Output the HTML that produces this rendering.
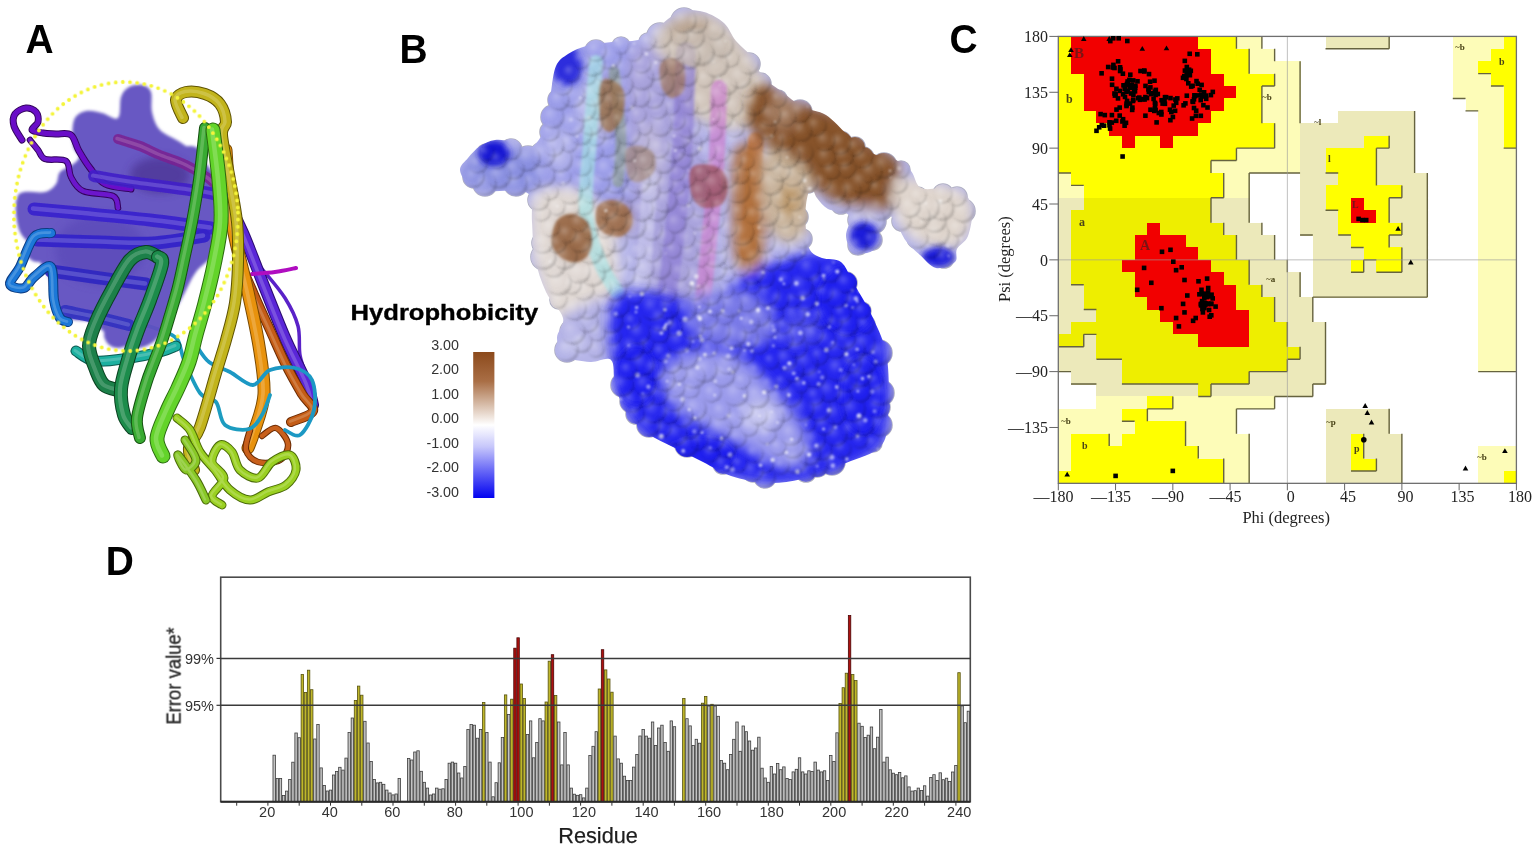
<!DOCTYPE html>
<html><head><meta charset="utf-8"><title>Figure</title>
<style>html,body{margin:0;padding:0;background:#fff;}body{width:1535px;height:852px;overflow:hidden;}svg{display:block;}</style>
</head><body>
<svg width="1535" height="852" viewBox="0 0 1535 852">
<rect width="1535" height="852" fill="#fff"/>
<defs>
<filter id="blA2" x="-20%" y="-20%" width="140%" height="140%"><feGaussianBlur stdDeviation="1.6"/></filter>
<filter id="blA4" x="-20%" y="-20%" width="140%" height="140%"><feGaussianBlur stdDeviation="4"/></filter>
<filter id="blA05" x="-20%" y="-20%" width="140%" height="140%"><feGaussianBlur stdDeviation="0.6"/></filter>
</defs>
<g id="pA">
<g filter="url(#blA05)">
<path d="M222.0,200.0C226.0,208.3 239.2,238.3 246.0,250.0C252.8,261.7 256.5,262.0 263.0,270.0C269.5,278.0 279.2,288.7 285.0,298.0C290.8,307.3 295.5,316.5 298.0,326.0C300.5,335.5 298.5,346.5 300.0,355.0C301.5,363.5 305.0,371.2 307.0,377.0C309.0,382.8 311.2,387.8 312.0,390.0" fill="none" stroke="#5a20c8" stroke-width="3.5" stroke-linecap="round" stroke-linejoin="round" opacity="1.0"/>
<path d="M222.0,190.0C225.5,197.2 236.0,217.0 243.0,233.0C250.0,249.0 256.8,268.2 264.0,286.0C271.2,303.8 278.8,323.7 286.0,340.0C293.2,356.3 302.5,373.2 307.0,384.0C311.5,394.8 312.0,401.5 313.0,405.0" fill="none" stroke="#2a0a70" stroke-width="12" stroke-linecap="round" stroke-linejoin="round" opacity="1.0"/><path d="M222.0,190.0C225.5,197.2 236.0,217.0 243.0,233.0C250.0,249.0 256.8,268.2 264.0,286.0C271.2,303.8 278.8,323.7 286.0,340.0C293.2,356.3 302.5,373.2 307.0,384.0C311.5,394.8 312.0,401.5 313.0,405.0" fill="none" stroke="#5a28d8" stroke-width="10" stroke-linecap="round" stroke-linejoin="round" opacity="1.0"/><path d="M222.0,190.0C225.5,197.2 236.0,217.0 243.0,233.0C250.0,249.0 256.8,268.2 264.0,286.0C271.2,303.8 278.8,323.7 286.0,340.0C293.2,356.3 302.5,373.2 307.0,384.0C311.5,394.8 312.0,401.5 313.0,405.0" fill="none" stroke="#9373e5" stroke-width="3.5" stroke-linecap="round" stroke-linejoin="round" opacity="0.55" transform="translate(-1,-0.5)"/>
<path d="M252.0,274.0C255.8,273.7 267.7,273.0 275.0,272.0C282.3,271.0 292.5,268.7 296.0,268.0" fill="none" stroke="#b010c0" stroke-width="4" stroke-linecap="round" stroke-linejoin="round" opacity="1.0"/>
<path d="M228.0,170.0C229.5,183.2 233.0,229.0 237.0,249.0C241.0,269.0 246.5,276.5 252.0,290.0C257.5,303.5 264.3,317.5 270.0,330.0C275.7,342.5 280.7,354.3 286.0,365.0C291.3,375.7 297.5,386.3 302.0,394.0C306.5,401.7 314.8,406.3 313.0,411.0C311.2,415.7 294.7,420.2 291.0,422.0" fill="none" stroke="#6a2a04" stroke-width="10" stroke-linecap="round" stroke-linejoin="round" opacity="1.0"/><path d="M228.0,170.0C229.5,183.2 233.0,229.0 237.0,249.0C241.0,269.0 246.5,276.5 252.0,290.0C257.5,303.5 264.3,317.5 270.0,330.0C275.7,342.5 280.7,354.3 286.0,365.0C291.3,375.7 297.5,386.3 302.0,394.0C306.5,401.7 314.8,406.3 313.0,411.0C311.2,415.7 294.7,420.2 291.0,422.0" fill="none" stroke="#c45c14" stroke-width="8" stroke-linecap="round" stroke-linejoin="round" opacity="1.0"/><path d="M228.0,170.0C229.5,183.2 233.0,229.0 237.0,249.0C241.0,269.0 246.5,276.5 252.0,290.0C257.5,303.5 264.3,317.5 270.0,330.0C275.7,342.5 280.7,354.3 286.0,365.0C291.3,375.7 297.5,386.3 302.0,394.0C306.5,401.7 314.8,406.3 313.0,411.0C311.2,415.7 294.7,420.2 291.0,422.0" fill="none" stroke="#d89566" stroke-width="2.8" stroke-linecap="round" stroke-linejoin="round" opacity="0.55" transform="translate(-1,-0.5)"/>
<path d="M226.0,150.0C227.0,162.0 228.3,198.3 232.0,222.0C235.7,245.7 243.5,271.3 248.0,292.0C252.5,312.7 256.3,329.0 259.0,346.0C261.7,363.0 264.8,379.7 264.0,394.0C263.2,408.3 256.7,423.0 254.0,432.0C251.3,441.0 249.0,445.3 248.0,448.0" fill="none" stroke="#7a4a04" stroke-width="13" stroke-linecap="round" stroke-linejoin="round" opacity="1.0"/><path d="M226.0,150.0C227.0,162.0 228.3,198.3 232.0,222.0C235.7,245.7 243.5,271.3 248.0,292.0C252.5,312.7 256.3,329.0 259.0,346.0C261.7,363.0 264.8,379.7 264.0,394.0C263.2,408.3 256.7,423.0 254.0,432.0C251.3,441.0 249.0,445.3 248.0,448.0" fill="none" stroke="#e8920c" stroke-width="11" stroke-linecap="round" stroke-linejoin="round" opacity="1.0"/><path d="M226.0,150.0C227.0,162.0 228.3,198.3 232.0,222.0C235.7,245.7 243.5,271.3 248.0,292.0C252.5,312.7 256.3,329.0 259.0,346.0C261.7,363.0 264.8,379.7 264.0,394.0C263.2,408.3 256.7,423.0 254.0,432.0C251.3,441.0 249.0,445.3 248.0,448.0" fill="none" stroke="#f0b861" stroke-width="3.8" stroke-linecap="round" stroke-linejoin="round" opacity="0.55" transform="translate(-1,-0.5)"/>
<path d="M250.0,430.0C249.3,433.3 244.7,444.7 246.0,450.0C247.3,455.3 252.3,460.3 258.0,462.0C263.7,463.7 275.0,463.0 280.0,460.0C285.0,457.0 288.7,449.3 288.0,444.0C287.3,438.7 280.3,429.3 276.0,428.0C271.7,426.7 264.3,434.7 262.0,436.0" fill="none" stroke="#6a2a04" stroke-width="6.5" stroke-linecap="round" stroke-linejoin="round" opacity="1.0"/><path d="M250.0,430.0C249.3,433.3 244.7,444.7 246.0,450.0C247.3,455.3 252.3,460.3 258.0,462.0C263.7,463.7 275.0,463.0 280.0,460.0C285.0,457.0 288.7,449.3 288.0,444.0C287.3,438.7 280.3,429.3 276.0,428.0C271.7,426.7 264.3,434.7 262.0,436.0" fill="none" stroke="#c8601a" stroke-width="4.5" stroke-linecap="round" stroke-linejoin="round" opacity="1.0"/>
<path d="M139.0,323.0C142.5,324.2 153.7,327.3 160.0,330.0C166.3,332.7 173.0,334.0 177.0,339.0C181.0,344.0 180.2,351.0 184.0,360.0C187.8,369.0 194.7,386.0 200.0,393.0C205.3,400.0 211.8,396.7 216.0,402.0C220.2,407.3 219.5,420.5 225.0,425.0C230.5,429.5 242.8,430.7 249.0,429.0C255.2,427.3 258.5,420.7 262.0,415.0C265.5,409.3 268.7,398.3 270.0,395.0" fill="none" stroke="#1e9cc0" stroke-width="3.8" stroke-linecap="round" stroke-linejoin="round" opacity="1.0"/>
<path d="M196.0,345.0C198.2,347.8 203.3,357.5 209.0,362.0C214.7,366.5 222.7,368.2 230.0,372.0C237.3,375.8 246.3,385.3 253.0,385.0C259.7,384.7 263.0,372.8 270.0,370.0C277.0,367.2 288.0,366.3 295.0,368.0C302.0,369.7 308.8,373.0 312.0,380.0C315.2,387.0 316.0,400.8 314.0,410.0C312.0,419.2 304.8,431.7 300.0,435.0C295.2,438.3 287.5,430.8 285.0,430.0" fill="none" stroke="#1a98c4" stroke-width="3.8" stroke-linecap="round" stroke-linejoin="round" opacity="1.0"/>
<path d="M183.0,118.0C181.8,115.0 175.5,104.3 176.0,100.0C176.5,95.7 181.2,93.0 186.0,92.0C190.8,91.0 199.3,92.0 205.0,94.0C210.7,96.0 216.5,99.3 220.0,104.0C223.5,108.7 225.7,116.8 226.0,122.0C226.3,127.2 221.3,125.3 222.0,135.0C222.7,144.7 227.5,165.5 230.0,180.0C232.5,194.5 235.7,208.3 237.0,222.0C238.3,235.7 238.3,248.5 238.0,262.0C237.7,275.5 237.0,290.0 235.0,303.0C233.0,316.0 229.2,328.3 226.0,340.0C222.8,351.7 220.3,358.5 216.0,373.0C211.7,387.5 204.5,414.5 200.0,427.0C195.5,439.5 190.0,440.8 189.0,448.0C188.0,455.2 193.2,466.3 194.0,470.0" fill="none" stroke="#5e5204" stroke-width="12" stroke-linecap="round" stroke-linejoin="round" opacity="1.0"/><path d="M183.0,118.0C181.8,115.0 175.5,104.3 176.0,100.0C176.5,95.7 181.2,93.0 186.0,92.0C190.8,91.0 199.3,92.0 205.0,94.0C210.7,96.0 216.5,99.3 220.0,104.0C223.5,108.7 225.7,116.8 226.0,122.0C226.3,127.2 221.3,125.3 222.0,135.0C222.7,144.7 227.5,165.5 230.0,180.0C232.5,194.5 235.7,208.3 237.0,222.0C238.3,235.7 238.3,248.5 238.0,262.0C237.7,275.5 237.0,290.0 235.0,303.0C233.0,316.0 229.2,328.3 226.0,340.0C222.8,351.7 220.3,358.5 216.0,373.0C211.7,387.5 204.5,414.5 200.0,427.0C195.5,439.5 190.0,440.8 189.0,448.0C188.0,455.2 193.2,466.3 194.0,470.0" fill="none" stroke="#c2b41a" stroke-width="10" stroke-linecap="round" stroke-linejoin="round" opacity="1.0"/><path d="M183.0,118.0C181.8,115.0 175.5,104.3 176.0,100.0C176.5,95.7 181.2,93.0 186.0,92.0C190.8,91.0 199.3,92.0 205.0,94.0C210.7,96.0 216.5,99.3 220.0,104.0C223.5,108.7 225.7,116.8 226.0,122.0C226.3,127.2 221.3,125.3 222.0,135.0C222.7,144.7 227.5,165.5 230.0,180.0C232.5,194.5 235.7,208.3 237.0,222.0C238.3,235.7 238.3,248.5 238.0,262.0C237.7,275.5 237.0,290.0 235.0,303.0C233.0,316.0 229.2,328.3 226.0,340.0C222.8,351.7 220.3,358.5 216.0,373.0C211.7,387.5 204.5,414.5 200.0,427.0C195.5,439.5 190.0,440.8 189.0,448.0C188.0,455.2 193.2,466.3 194.0,470.0" fill="none" stroke="#d7ce6a" stroke-width="3.5" stroke-linecap="round" stroke-linejoin="round" opacity="0.55" transform="translate(-1,-0.5)"/>
</g>
<g filter="url(#blA2)">
<g opacity="0.95" fill="#5f51c0">
<path d="M129.0,87.0C132.5,85.0 138.3,84.2 142.0,85.0C145.7,85.8 149.3,87.5 151.0,92.0C152.7,96.5 150.5,105.7 152.0,112.0C153.5,118.3 155.3,125.0 160.0,130.0C164.7,135.0 173.3,137.5 180.0,142.0C186.7,146.5 194.3,151.5 200.0,157.0C205.7,162.5 209.8,168.2 214.0,175.0C218.2,181.8 223.2,189.5 225.0,198.0C226.8,206.5 226.7,216.8 225.0,226.0C223.3,235.2 219.8,245.3 215.0,253.0C210.2,260.7 201.5,264.5 196.0,272.0C190.5,279.5 186.7,289.7 182.0,298.0C177.3,306.3 173.0,314.5 168.0,322.0C163.0,329.5 158.3,338.7 152.0,343.0C145.7,347.3 137.0,349.2 130.0,348.0C123.0,346.8 116.7,340.3 110.0,336.0C103.3,331.7 97.0,325.0 90.0,322.0C83.0,319.0 73.7,321.7 68.0,318.0C62.3,314.3 59.0,306.3 56.0,300.0C53.0,293.7 52.7,286.3 50.0,280.0C47.3,273.7 43.3,267.8 40.0,262.0C36.7,256.2 33.3,250.0 30.0,245.0C26.7,240.0 22.3,237.2 20.0,232.0C17.7,226.8 16.5,219.7 16.0,214.0C15.5,208.3 15.7,201.7 17.0,198.0C18.3,194.3 19.3,193.0 24.0,192.0C28.7,191.0 39.7,193.3 45.0,192.0C50.3,190.7 53.5,187.3 56.0,184.0C58.5,180.7 57.3,175.2 60.0,172.0C62.7,168.8 68.8,167.5 72.0,165.0C75.2,162.5 78.8,160.3 79.0,157.0C79.2,153.7 73.8,151.2 73.0,145.0C72.2,138.8 71.8,125.7 74.0,120.0C76.2,114.3 81.3,112.2 86.0,111.0C90.7,109.8 96.7,111.8 102.0,113.0C107.3,114.2 114.8,120.7 118.0,118.0C121.2,115.3 119.2,102.2 121.0,97.0C122.8,91.8 125.5,89.0 129.0,87.0Z"/>
<circle cx="136" cy="101" r="14"/>
<circle cx="28" cy="206" r="12"/>
<circle cx="38" cy="250" r="12"/>
<circle cx="68" cy="300" r="14"/>
<circle cx="118" cy="334" r="14"/>
<circle cx="160" cy="318" r="12"/>
<circle cx="90" cy="127" r="14"/>
<circle cx="205" cy="240" r="14"/>
<circle cx="190" cy="160" r="14"/>
</g>
</g>
<g filter="url(#blA4)" opacity="0.7">
<ellipse cx="160" cy="175" rx="30" ry="18" fill="#4a3090"/>
<ellipse cx="100" cy="250" rx="45" ry="35" fill="#5a48b8"/>
</g>
<g filter="url(#blA05)">
<path d="M22.0,140.0C20.7,137.7 15.2,130.3 14.0,126.0C12.8,121.7 13.0,117.0 15.0,114.0C17.0,111.0 22.5,108.3 26.0,108.0C29.5,107.7 34.0,109.7 36.0,112.0C38.0,114.3 38.7,119.0 38.0,122.0C37.3,125.0 31.2,128.2 32.0,130.0C32.8,131.8 39.0,132.3 43.0,133.0C47.0,133.7 51.3,133.7 56.0,134.0C60.7,134.3 67.2,132.2 71.0,135.0C74.8,137.8 75.8,145.5 79.0,151.0C82.2,156.5 85.7,162.5 90.0,168.0C94.3,173.5 98.2,180.5 105.0,184.0C111.8,187.5 126.7,188.2 131.0,189.0" fill="none" stroke="#34065e" stroke-width="7" stroke-linecap="round" stroke-linejoin="round" opacity="1.0"/><path d="M22.0,140.0C20.7,137.7 15.2,130.3 14.0,126.0C12.8,121.7 13.0,117.0 15.0,114.0C17.0,111.0 22.5,108.3 26.0,108.0C29.5,107.7 34.0,109.7 36.0,112.0C38.0,114.3 38.7,119.0 38.0,122.0C37.3,125.0 31.2,128.2 32.0,130.0C32.8,131.8 39.0,132.3 43.0,133.0C47.0,133.7 51.3,133.7 56.0,134.0C60.7,134.3 67.2,132.2 71.0,135.0C74.8,137.8 75.8,145.5 79.0,151.0C82.2,156.5 85.7,162.5 90.0,168.0C94.3,173.5 98.2,180.5 105.0,184.0C111.8,187.5 126.7,188.2 131.0,189.0" fill="none" stroke="#6a10c8" stroke-width="5" stroke-linecap="round" stroke-linejoin="round" opacity="1.0"/>
<path d="M30.0,140.0C31.3,141.7 35.5,146.8 38.0,150.0C40.5,153.2 40.3,157.2 45.0,159.0C49.7,160.8 61.7,158.0 66.0,161.0C70.3,164.0 68.2,172.0 71.0,177.0C73.8,182.0 76.0,187.8 83.0,191.0C90.0,194.2 107.2,193.2 113.0,196.0C118.8,198.8 117.2,206.0 118.0,208.0" fill="none" stroke="#34065e" stroke-width="6.5" stroke-linecap="round" stroke-linejoin="round" opacity="1.0"/><path d="M30.0,140.0C31.3,141.7 35.5,146.8 38.0,150.0C40.5,153.2 40.3,157.2 45.0,159.0C49.7,160.8 61.7,158.0 66.0,161.0C70.3,164.0 68.2,172.0 71.0,177.0C73.8,182.0 76.0,187.8 83.0,191.0C90.0,194.2 107.2,193.2 113.0,196.0C118.8,198.8 117.2,206.0 118.0,208.0" fill="none" stroke="#6c14cc" stroke-width="4.5" stroke-linecap="round" stroke-linejoin="round" opacity="1.0"/>
<path d="M118.0,139.0C121.7,140.2 133.0,143.3 140.0,146.0C147.0,148.7 152.3,151.8 160.0,155.0C167.7,158.2 178.0,161.2 186.0,165.0C194.0,168.8 202.2,173.8 208.0,178.0C213.8,182.2 218.8,188.0 221.0,190.0" fill="none" stroke="#7a2090" stroke-width="10" stroke-linecap="round" stroke-linejoin="round" opacity="0.85"/><path d="M118.0,139.0C121.7,140.2 133.0,143.3 140.0,146.0C147.0,148.7 152.3,151.8 160.0,155.0C167.7,158.2 178.0,161.2 186.0,165.0C194.0,168.8 202.2,173.8 208.0,178.0C213.8,182.2 218.8,188.0 221.0,190.0" fill="none" stroke="#a86eb6" stroke-width="3.5" stroke-linecap="round" stroke-linejoin="round" opacity="0.47" transform="translate(-1,-0.5)"/>
<path d="M94.0,176.0C100.0,177.0 119.0,180.3 130.0,182.0C141.0,183.7 147.7,184.3 160.0,186.0C172.3,187.7 193.7,190.3 204.0,192.0C214.3,193.7 219.0,195.3 222.0,196.0" fill="none" stroke="#4020c8" stroke-width="12" stroke-linecap="round" stroke-linejoin="round" opacity="0.9"/><path d="M94.0,176.0C100.0,177.0 119.0,180.3 130.0,182.0C141.0,183.7 147.7,184.3 160.0,186.0C172.3,187.7 193.7,190.3 204.0,192.0C214.3,193.7 219.0,195.3 222.0,196.0" fill="none" stroke="#826edb" stroke-width="4.2" stroke-linecap="round" stroke-linejoin="round" opacity="0.50" transform="translate(-1,-0.5)"/>
<path d="M34.0,209.0C43.3,209.8 70.7,212.2 90.0,214.0C109.3,215.8 129.8,217.7 150.0,220.0C170.2,222.3 200.8,226.7 211.0,228.0" fill="none" stroke="#3a22cc" stroke-width="13" stroke-linecap="round" stroke-linejoin="round" opacity="0.95"/><path d="M34.0,209.0C43.3,209.8 70.7,212.2 90.0,214.0C109.3,215.8 129.8,217.7 150.0,220.0C170.2,222.3 200.8,226.7 211.0,228.0" fill="none" stroke="#7e6fdd" stroke-width="4.5" stroke-linecap="round" stroke-linejoin="round" opacity="0.52" transform="translate(-1,-0.5)"/>
<path d="M37.0,240.0C47.5,240.3 80.7,241.5 100.0,242.0C119.3,242.5 135.7,244.0 153.0,243.0C170.3,242.0 195.5,237.2 204.0,236.0" fill="none" stroke="#3424c8" stroke-width="13" stroke-linecap="round" stroke-linejoin="round" opacity="0.95"/><path d="M37.0,240.0C47.5,240.3 80.7,241.5 100.0,242.0C119.3,242.5 135.7,244.0 153.0,243.0C170.3,242.0 195.5,237.2 204.0,236.0" fill="none" stroke="#7b70db" stroke-width="4.5" stroke-linecap="round" stroke-linejoin="round" opacity="0.52" transform="translate(-1,-0.5)"/>
<path d="M51.0,271.0C59.2,272.2 84.2,275.8 100.0,278.0C115.8,280.2 138.3,283.0 146.0,284.0" fill="none" stroke="#3028c0" stroke-width="13" stroke-linecap="round" stroke-linejoin="round" opacity="0.95"/><path d="M51.0,271.0C59.2,272.2 84.2,275.8 100.0,278.0C115.8,280.2 138.3,283.0 146.0,284.0" fill="none" stroke="#7873d6" stroke-width="4.5" stroke-linecap="round" stroke-linejoin="round" opacity="0.52" transform="translate(-1,-0.5)"/>
<path d="M65.0,311.0C70.8,312.2 89.3,315.7 100.0,318.0C110.7,320.3 124.2,323.8 129.0,325.0" fill="none" stroke="#3030c0" stroke-width="12" stroke-linecap="round" stroke-linejoin="round" opacity="0.9"/><path d="M65.0,311.0C70.8,312.2 89.3,315.7 100.0,318.0C110.7,320.3 124.2,323.8 129.0,325.0" fill="none" stroke="#7878d6" stroke-width="4.2" stroke-linecap="round" stroke-linejoin="round" opacity="0.50" transform="translate(-1,-0.5)"/>
<path d="M51.0,233.0C48.2,233.7 39.2,231.3 34.0,237.0C28.8,242.7 24.0,259.2 20.0,267.0C16.0,274.8 9.3,280.5 10.0,284.0C10.7,287.5 20.0,289.2 24.0,288.0C28.0,286.8 29.5,280.5 34.0,277.0C38.5,273.5 47.7,263.2 51.0,267.0C54.3,270.8 52.5,291.5 54.0,300.0C55.5,308.5 57.7,314.3 60.0,318.0C62.3,321.7 66.7,321.3 68.0,322.0" fill="none" stroke="#0a3a80" stroke-width="10" stroke-linecap="round" stroke-linejoin="round" opacity="1.0"/><path d="M51.0,233.0C48.2,233.7 39.2,231.3 34.0,237.0C28.8,242.7 24.0,259.2 20.0,267.0C16.0,274.8 9.3,280.5 10.0,284.0C10.7,287.5 20.0,289.2 24.0,288.0C28.0,286.8 29.5,280.5 34.0,277.0C38.5,273.5 47.7,263.2 51.0,267.0C54.3,270.8 52.5,291.5 54.0,300.0C55.5,308.5 57.7,314.3 60.0,318.0C62.3,321.7 66.7,321.3 68.0,322.0" fill="none" stroke="#1a78d8" stroke-width="8" stroke-linecap="round" stroke-linejoin="round" opacity="1.0"/><path d="M51.0,233.0C48.2,233.7 39.2,231.3 34.0,237.0C28.8,242.7 24.0,259.2 20.0,267.0C16.0,274.8 9.3,280.5 10.0,284.0C10.7,287.5 20.0,289.2 24.0,288.0C28.0,286.8 29.5,280.5 34.0,277.0C38.5,273.5 47.7,263.2 51.0,267.0C54.3,270.8 52.5,291.5 54.0,300.0C55.5,308.5 57.7,314.3 60.0,318.0C62.3,321.7 66.7,321.3 68.0,322.0" fill="none" stroke="#6aa7e5" stroke-width="2.8" stroke-linecap="round" stroke-linejoin="round" opacity="0.55" transform="translate(-1,-0.5)"/>
<path d="M76.0,351.0C79.2,352.7 86.0,359.8 95.0,361.0C104.0,362.2 119.2,359.5 130.0,358.0C140.8,356.5 152.3,354.0 160.0,352.0C167.7,350.0 173.3,347.0 176.0,346.0" fill="none" stroke="#0a5a50" stroke-width="11" stroke-linecap="round" stroke-linejoin="round" opacity="1.0"/><path d="M76.0,351.0C79.2,352.7 86.0,359.8 95.0,361.0C104.0,362.2 119.2,359.5 130.0,358.0C140.8,356.5 152.3,354.0 160.0,352.0C167.7,350.0 173.3,347.0 176.0,346.0" fill="none" stroke="#1eb0a0" stroke-width="9" stroke-linecap="round" stroke-linejoin="round" opacity="1.0"/><path d="M76.0,351.0C79.2,352.7 86.0,359.8 95.0,361.0C104.0,362.2 119.2,359.5 130.0,358.0C140.8,356.5 152.3,354.0 160.0,352.0C167.7,350.0 173.3,347.0 176.0,346.0" fill="none" stroke="#6ccbc1" stroke-width="3.1" stroke-linecap="round" stroke-linejoin="round" opacity="0.55" transform="translate(-1,-0.5)"/>
<path d="M158.0,257.0C156.0,256.2 150.7,251.5 146.0,252.0C141.3,252.5 135.7,253.7 130.0,260.0C124.3,266.3 117.7,279.7 112.0,290.0C106.3,300.3 99.8,312.7 96.0,322.0C92.2,331.3 89.0,338.0 89.0,346.0C89.0,354.0 93.5,363.5 96.0,370.0C98.5,376.5 100.3,381.7 104.0,385.0C107.7,388.3 115.7,389.2 118.0,390.0" fill="none" stroke="#0a4020" stroke-width="14" stroke-linecap="round" stroke-linejoin="round" opacity="1.0"/><path d="M158.0,257.0C156.0,256.2 150.7,251.5 146.0,252.0C141.3,252.5 135.7,253.7 130.0,260.0C124.3,266.3 117.7,279.7 112.0,290.0C106.3,300.3 99.8,312.7 96.0,322.0C92.2,331.3 89.0,338.0 89.0,346.0C89.0,354.0 93.5,363.5 96.0,370.0C98.5,376.5 100.3,381.7 104.0,385.0C107.7,388.3 115.7,389.2 118.0,390.0" fill="none" stroke="#1a8048" stroke-width="12" stroke-linecap="round" stroke-linejoin="round" opacity="1.0"/><path d="M158.0,257.0C156.0,256.2 150.7,251.5 146.0,252.0C141.3,252.5 135.7,253.7 130.0,260.0C124.3,266.3 117.7,279.7 112.0,290.0C106.3,300.3 99.8,312.7 96.0,322.0C92.2,331.3 89.0,338.0 89.0,346.0C89.0,354.0 93.5,363.5 96.0,370.0C98.5,376.5 100.3,381.7 104.0,385.0C107.7,388.3 115.7,389.2 118.0,390.0" fill="none" stroke="#6aac88" stroke-width="4.2" stroke-linecap="round" stroke-linejoin="round" opacity="0.55" transform="translate(-1,-0.5)"/>
<path d="M158.0,257.0C158.7,258.2 163.3,256.8 162.0,264.0C160.7,271.2 154.0,289.0 150.0,300.0C146.0,311.0 141.7,320.0 138.0,330.0C134.3,340.0 130.8,350.2 128.0,360.0C125.2,369.8 121.7,379.8 121.0,389.0C120.3,398.2 122.2,408.5 124.0,415.0C125.8,421.5 130.7,425.8 132.0,428.0" fill="none" stroke="#0a4020" stroke-width="14" stroke-linecap="round" stroke-linejoin="round" opacity="1.0"/><path d="M158.0,257.0C158.7,258.2 163.3,256.8 162.0,264.0C160.7,271.2 154.0,289.0 150.0,300.0C146.0,311.0 141.7,320.0 138.0,330.0C134.3,340.0 130.8,350.2 128.0,360.0C125.2,369.8 121.7,379.8 121.0,389.0C120.3,398.2 122.2,408.5 124.0,415.0C125.8,421.5 130.7,425.8 132.0,428.0" fill="none" stroke="#1e8c4c" stroke-width="12" stroke-linecap="round" stroke-linejoin="round" opacity="1.0"/><path d="M158.0,257.0C158.7,258.2 163.3,256.8 162.0,264.0C160.7,271.2 154.0,289.0 150.0,300.0C146.0,311.0 141.7,320.0 138.0,330.0C134.3,340.0 130.8,350.2 128.0,360.0C125.2,369.8 121.7,379.8 121.0,389.0C120.3,398.2 122.2,408.5 124.0,415.0C125.8,421.5 130.7,425.8 132.0,428.0" fill="none" stroke="#6cb48a" stroke-width="4.2" stroke-linecap="round" stroke-linejoin="round" opacity="0.55" transform="translate(-1,-0.5)"/>
<path d="M205.0,128.0C204.0,136.7 201.2,164.3 199.0,180.0C196.8,195.7 194.5,208.7 192.0,222.0C189.5,235.3 186.3,249.2 184.0,260.0C181.7,270.8 180.3,277.8 178.0,287.0C175.7,296.2 172.7,306.0 170.0,315.0C167.3,324.0 164.7,333.2 162.0,341.0C159.3,348.8 156.7,354.8 154.0,362.0C151.3,369.2 148.8,374.7 146.0,384.0C143.2,393.3 138.0,409.0 137.0,418.0C136.0,427.0 139.5,434.7 140.0,438.0" fill="none" stroke="#145010" stroke-width="12" stroke-linecap="round" stroke-linejoin="round" opacity="1.0"/><path d="M205.0,128.0C204.0,136.7 201.2,164.3 199.0,180.0C196.8,195.7 194.5,208.7 192.0,222.0C189.5,235.3 186.3,249.2 184.0,260.0C181.7,270.8 180.3,277.8 178.0,287.0C175.7,296.2 172.7,306.0 170.0,315.0C167.3,324.0 164.7,333.2 162.0,341.0C159.3,348.8 156.7,354.8 154.0,362.0C151.3,369.2 148.8,374.7 146.0,384.0C143.2,393.3 138.0,409.0 137.0,418.0C136.0,427.0 139.5,434.7 140.0,438.0" fill="none" stroke="#38aa30" stroke-width="10" stroke-linecap="round" stroke-linejoin="round" opacity="1.0"/><path d="M205.0,128.0C204.0,136.7 201.2,164.3 199.0,180.0C196.8,195.7 194.5,208.7 192.0,222.0C189.5,235.3 186.3,249.2 184.0,260.0C181.7,270.8 180.3,277.8 178.0,287.0C175.7,296.2 172.7,306.0 170.0,315.0C167.3,324.0 164.7,333.2 162.0,341.0C159.3,348.8 156.7,354.8 154.0,362.0C151.3,369.2 148.8,374.7 146.0,384.0C143.2,393.3 138.0,409.0 137.0,418.0C136.0,427.0 139.5,434.7 140.0,438.0" fill="none" stroke="#7dc778" stroke-width="3.5" stroke-linecap="round" stroke-linejoin="round" opacity="0.55" transform="translate(-1,-0.5)"/>
<path d="M213.0,130.0C214.0,138.3 217.7,164.7 219.0,180.0C220.3,195.3 221.8,207.8 221.0,222.0C220.2,236.2 216.7,251.5 214.0,265.0C211.3,278.5 208.0,291.3 205.0,303.0C202.0,314.7 198.7,325.2 196.0,335.0C193.3,344.8 192.0,353.2 189.0,362.0C186.0,370.8 181.7,379.8 178.0,388.0C174.3,396.2 170.5,402.7 167.0,411.0C163.5,419.3 157.7,430.5 157.0,438.0C156.3,445.5 162.0,453.0 163.0,456.0" fill="none" stroke="#2a6a10" stroke-width="15" stroke-linecap="round" stroke-linejoin="round" opacity="1.0"/><path d="M213.0,130.0C214.0,138.3 217.7,164.7 219.0,180.0C220.3,195.3 221.8,207.8 221.0,222.0C220.2,236.2 216.7,251.5 214.0,265.0C211.3,278.5 208.0,291.3 205.0,303.0C202.0,314.7 198.7,325.2 196.0,335.0C193.3,344.8 192.0,353.2 189.0,362.0C186.0,370.8 181.7,379.8 178.0,388.0C174.3,396.2 170.5,402.7 167.0,411.0C163.5,419.3 157.7,430.5 157.0,438.0C156.3,445.5 162.0,453.0 163.0,456.0" fill="none" stroke="#64d42c" stroke-width="13" stroke-linecap="round" stroke-linejoin="round" opacity="1.0"/><path d="M213.0,130.0C214.0,138.3 217.7,164.7 219.0,180.0C220.3,195.3 221.8,207.8 221.0,222.0C220.2,236.2 216.7,251.5 214.0,265.0C211.3,278.5 208.0,291.3 205.0,303.0C202.0,314.7 198.7,325.2 196.0,335.0C193.3,344.8 192.0,353.2 189.0,362.0C186.0,370.8 181.7,379.8 178.0,388.0C174.3,396.2 170.5,402.7 167.0,411.0C163.5,419.3 157.7,430.5 157.0,438.0C156.3,445.5 162.0,453.0 163.0,456.0" fill="none" stroke="#9ae375" stroke-width="4.5" stroke-linecap="round" stroke-linejoin="round" opacity="0.55" transform="translate(-1,-0.5)"/>
<path d="M177.0,418.0C179.2,420.0 186.2,424.3 190.0,430.0C193.8,435.7 195.8,445.3 200.0,452.0C204.2,458.7 210.0,463.7 215.0,470.0C220.0,476.3 224.2,485.0 230.0,490.0C235.8,495.0 243.7,499.7 250.0,500.0C256.3,500.3 262.0,494.5 268.0,492.0C274.0,489.5 281.3,488.7 286.0,485.0C290.7,481.3 295.3,475.0 296.0,470.0C296.7,465.0 294.0,456.3 290.0,455.0C286.0,453.7 277.3,458.2 272.0,462.0C266.7,465.8 263.3,476.7 258.0,478.0C252.7,479.3 244.3,474.3 240.0,470.0C235.7,465.7 235.3,456.2 232.0,452.0C228.7,447.8 223.3,443.3 220.0,445.0C216.7,446.7 211.3,456.5 212.0,462.0C212.7,467.5 224.0,472.3 224.0,478.0C224.0,483.7 212.3,491.5 212.0,496.0C211.7,500.5 220.3,503.5 222.0,505.0" fill="none" stroke="#4a6a08" stroke-width="9" stroke-linecap="round" stroke-linejoin="round" opacity="1.0"/><path d="M177.0,418.0C179.2,420.0 186.2,424.3 190.0,430.0C193.8,435.7 195.8,445.3 200.0,452.0C204.2,458.7 210.0,463.7 215.0,470.0C220.0,476.3 224.2,485.0 230.0,490.0C235.8,495.0 243.7,499.7 250.0,500.0C256.3,500.3 262.0,494.5 268.0,492.0C274.0,489.5 281.3,488.7 286.0,485.0C290.7,481.3 295.3,475.0 296.0,470.0C296.7,465.0 294.0,456.3 290.0,455.0C286.0,453.7 277.3,458.2 272.0,462.0C266.7,465.8 263.3,476.7 258.0,478.0C252.7,479.3 244.3,474.3 240.0,470.0C235.7,465.7 235.3,456.2 232.0,452.0C228.7,447.8 223.3,443.3 220.0,445.0C216.7,446.7 211.3,456.5 212.0,462.0C212.7,467.5 224.0,472.3 224.0,478.0C224.0,483.7 212.3,491.5 212.0,496.0C211.7,500.5 220.3,503.5 222.0,505.0" fill="none" stroke="#9ad020" stroke-width="7" stroke-linecap="round" stroke-linejoin="round" opacity="1.0"/><path d="M177.0,418.0C179.2,420.0 186.2,424.3 190.0,430.0C193.8,435.7 195.8,445.3 200.0,452.0C204.2,458.7 210.0,463.7 215.0,470.0C220.0,476.3 224.2,485.0 230.0,490.0C235.8,495.0 243.7,499.7 250.0,500.0C256.3,500.3 262.0,494.5 268.0,492.0C274.0,489.5 281.3,488.7 286.0,485.0C290.7,481.3 295.3,475.0 296.0,470.0C296.7,465.0 294.0,456.3 290.0,455.0C286.0,453.7 277.3,458.2 272.0,462.0C266.7,465.8 263.3,476.7 258.0,478.0C252.7,479.3 244.3,474.3 240.0,470.0C235.7,465.7 235.3,456.2 232.0,452.0C228.7,447.8 223.3,443.3 220.0,445.0C216.7,446.7 211.3,456.5 212.0,462.0C212.7,467.5 224.0,472.3 224.0,478.0C224.0,483.7 212.3,491.5 212.0,496.0C211.7,500.5 220.3,503.5 222.0,505.0" fill="none" stroke="#bde06e" stroke-width="2.4" stroke-linecap="round" stroke-linejoin="round" opacity="0.55" transform="translate(-1,-0.5)"/>
<path d="M185.0,440.0C186.8,443.3 195.8,455.0 196.0,460.0C196.2,465.0 189.0,470.8 186.0,470.0C183.0,469.2 176.3,453.3 178.0,455.0C179.7,456.7 191.3,472.5 196.0,480.0C200.7,487.5 204.3,496.7 206.0,500.0" fill="none" stroke="#4a6a08" stroke-width="9" stroke-linecap="round" stroke-linejoin="round" opacity="1.0"/><path d="M185.0,440.0C186.8,443.3 195.8,455.0 196.0,460.0C196.2,465.0 189.0,470.8 186.0,470.0C183.0,469.2 176.3,453.3 178.0,455.0C179.7,456.7 191.3,472.5 196.0,480.0C200.7,487.5 204.3,496.7 206.0,500.0" fill="none" stroke="#88c828" stroke-width="7" stroke-linecap="round" stroke-linejoin="round" opacity="1.0"/><path d="M185.0,440.0C186.8,443.3 195.8,455.0 196.0,460.0C196.2,465.0 189.0,470.8 186.0,470.0C183.0,469.2 176.3,453.3 178.0,455.0C179.7,456.7 191.3,472.5 196.0,480.0C200.7,487.5 204.3,496.7 206.0,500.0" fill="none" stroke="#b1db73" stroke-width="2.4" stroke-linecap="round" stroke-linejoin="round" opacity="0.55" transform="translate(-1,-0.5)"/>
</g>
<ellipse cx="126" cy="216.5" rx="112" ry="134.5" fill="none" stroke="#f4f43a" stroke-width="3.9" stroke-dasharray="0 7.2" stroke-linecap="round" transform="rotate(-2 126 216.5)"/>
</g>
<defs>
<clipPath id="clipB"><path d="M460.0,170.0C459.7,165.3 464.7,162.0 468.0,158.0C471.3,154.0 475.5,149.0 480.0,146.0C484.5,143.0 489.7,140.7 495.0,140.0C500.3,139.3 506.5,140.5 512.0,142.0C517.5,143.5 523.3,149.7 528.0,149.0C532.7,148.3 536.7,143.2 540.0,138.0C543.3,132.8 546.2,125.7 548.0,118.0C549.8,110.3 549.7,100.7 551.0,92.0C552.3,83.3 553.2,72.3 556.0,66.0C558.8,59.7 563.0,57.3 568.0,54.0C573.0,50.7 578.7,48.0 586.0,46.0C593.3,44.0 603.3,43.0 612.0,42.0C620.7,41.0 630.8,41.8 638.0,40.0C645.2,38.2 650.0,34.5 655.0,31.0C660.0,27.5 663.3,22.3 668.0,19.0C672.7,15.7 677.0,12.2 683.0,11.0C689.0,9.8 697.2,10.0 704.0,12.0C710.8,14.0 718.7,18.2 724.0,23.0C729.3,27.8 731.3,35.3 736.0,41.0C740.7,46.7 747.5,51.0 752.0,57.0C756.5,63.0 758.2,71.3 763.0,77.0C767.8,82.7 774.3,86.0 781.0,91.0C787.7,96.0 795.5,103.0 803.0,107.0C810.5,111.0 818.3,110.2 826.0,115.0C833.7,119.8 841.0,129.5 849.0,136.0C857.0,142.5 866.2,150.0 874.0,154.0C881.8,158.0 889.8,157.2 896.0,160.0C902.2,162.8 906.8,166.3 911.0,171.0C915.2,175.7 915.3,185.2 921.0,188.0C926.7,190.8 938.0,187.5 945.0,188.0C952.0,188.5 958.5,187.3 963.0,191.0C967.5,194.7 971.2,202.5 972.0,210.0C972.8,217.5 970.5,229.5 968.0,236.0C965.5,242.5 959.2,244.7 957.0,249.0C954.8,253.3 958.5,258.8 955.0,262.0C951.5,265.2 941.8,269.2 936.0,268.0C930.2,266.8 925.0,259.5 920.0,255.0C915.0,250.5 910.0,246.3 906.0,241.0C902.0,235.7 899.3,227.7 896.0,223.0C892.7,218.3 888.7,212.5 886.0,213.0C883.3,213.5 881.3,220.7 880.0,226.0C878.7,231.3 880.2,240.5 878.0,245.0C875.8,249.5 871.3,252.2 867.0,253.0C862.7,253.8 855.5,252.8 852.0,250.0C848.5,247.2 846.3,241.2 846.0,236.0C845.7,230.8 850.3,223.0 850.0,219.0C849.7,215.0 847.7,213.7 844.0,212.0C840.3,210.3 832.5,211.3 828.0,209.0C823.5,206.7 819.8,201.7 817.0,198.0C814.2,194.3 812.8,185.8 811.0,187.0C809.2,188.2 806.8,197.8 806.0,205.0C805.2,212.2 805.3,222.5 806.0,230.0C806.7,237.5 807.3,245.3 810.0,250.0C812.7,254.7 816.8,256.0 822.0,258.0C827.2,260.0 835.8,258.0 841.0,262.0C846.2,266.0 847.7,272.7 853.0,282.0C858.3,291.3 867.3,305.3 873.0,318.0C878.7,330.7 884.5,341.3 887.0,358.0C889.5,374.7 889.2,403.2 888.0,418.0C886.8,432.8 887.0,439.5 880.0,447.0C873.0,454.5 859.0,457.7 846.0,463.0C833.0,468.3 815.2,475.7 802.0,479.0C788.8,482.3 778.8,483.5 767.0,483.0C755.2,482.5 741.7,479.5 731.0,476.0C720.3,472.5 712.3,466.7 703.0,462.0C693.7,457.3 684.3,452.8 675.0,448.0C665.7,443.2 655.2,439.0 647.0,433.0C638.8,427.0 631.3,420.2 626.0,412.0C620.7,403.8 617.5,392.7 615.0,384.0C612.5,375.3 615.2,363.7 611.0,360.0C606.8,356.3 597.8,362.7 590.0,362.0C582.2,361.3 569.5,360.0 564.0,356.0C558.5,352.0 557.2,344.3 557.0,338.0C556.8,331.7 564.8,325.7 563.0,318.0C561.2,310.3 550.7,302.0 546.0,292.0C541.3,282.0 537.3,269.7 535.0,258.0C532.7,246.3 532.7,232.0 532.0,222.0C531.3,212.0 533.0,203.2 531.0,198.0C529.0,192.8 526.8,192.2 520.0,191.0C513.2,189.8 498.3,191.8 490.0,191.0C481.7,190.2 475.0,189.5 470.0,186.0C465.0,182.5 460.3,174.7 460.0,170.0Z"/></clipPath>
<filter id="blB6" x="-50%" y="-50%" width="200%" height="200%"><feGaussianBlur stdDeviation="6"/></filter>
<filter id="blB3" x="-50%" y="-50%" width="200%" height="200%"><feGaussianBlur stdDeviation="3"/></filter>
<filter id="blB15" x="-50%" y="-50%" width="200%" height="200%"><feGaussianBlur stdDeviation="1.6"/></filter>
<filter id="blB1" x="-50%" y="-50%" width="200%" height="200%"><feGaussianBlur stdDeviation="1.2"/></filter>
<filter id="bumpB" filterUnits="userSpaceOnUse" x="440" y="0" width="545" height="500" color-interpolation-filters="sRGB"><feTurbulence type="fractalNoise" baseFrequency="0.045" numOctaves="1" seed="5" result="noise"/><feDiffuseLighting in="noise" surfaceScale="2.5" diffuseConstant="1.12" lighting-color="#ffffff" result="diff"><feDistantLight azimuth="225" elevation="60"/></feDiffuseLighting><feSpecularLighting in="noise" surfaceScale="3" specularConstant="0.5" specularExponent="30" lighting-color="#ffffff" result="spec"><feDistantLight azimuth="225" elevation="45"/></feSpecularLighting><feComposite in="SourceGraphic" in2="diff" operator="arithmetic" k1="1" k2="0" k3="0" k4="0" result="shaded"/><feComposite in="spec" in2="SourceGraphic" operator="in" result="specIn"/><feComposite in="shaded" in2="specIn" operator="arithmetic" k1="0" k2="1" k3="0.35" k4="0"/></filter>
<g id="atomsB"><circle cx="581" cy="60" r="10"/><circle cx="663" cy="84" r="12"/><circle cx="735" cy="142" r="12"/><circle cx="619" cy="307" r="11"/><circle cx="835" cy="414" r="12"/><circle cx="770" cy="328" r="10"/><circle cx="719" cy="95" r="12"/><circle cx="702" cy="53" r="13"/><circle cx="720" cy="206" r="10"/><circle cx="767" cy="214" r="13"/><circle cx="543" cy="155" r="13"/><circle cx="604" cy="263" r="10"/><circle cx="701" cy="173" r="9"/><circle cx="671" cy="107" r="9"/><circle cx="784" cy="141" r="11"/><circle cx="642" cy="364" r="13"/><circle cx="624" cy="275" r="12"/><circle cx="852" cy="301" r="9"/><circle cx="582" cy="167" r="10"/><circle cx="551" cy="228" r="10"/><circle cx="778" cy="397" r="10"/><circle cx="610" cy="101" r="9"/><circle cx="687" cy="75" r="12"/><circle cx="861" cy="182" r="12"/><circle cx="609" cy="57" r="13"/><circle cx="963" cy="211" r="12"/><circle cx="856" cy="204" r="9"/><circle cx="584" cy="205" r="11"/><circle cx="584" cy="109" r="13"/><circle cx="865" cy="363" r="12"/><circle cx="632" cy="321" r="9"/><circle cx="795" cy="335" r="11"/><circle cx="785" cy="280" r="9"/><circle cx="842" cy="449" r="10"/><circle cx="875" cy="381" r="9"/><circle cx="804" cy="167" r="9"/><circle cx="701" cy="259" r="9"/><circle cx="764" cy="242" r="12"/><circle cx="531" cy="182" r="10"/><circle cx="738" cy="191" r="13"/><circle cx="863" cy="158" r="11"/><circle cx="580" cy="241" r="12"/><circle cx="682" cy="416" r="12"/><circle cx="676" cy="388" r="10"/><circle cx="737" cy="438" r="10"/><circle cx="709" cy="349" r="9"/><circle cx="806" cy="299" r="12"/><circle cx="699" cy="441" r="10"/><circle cx="755" cy="176" r="9"/><circle cx="627" cy="153" r="10"/><circle cx="754" cy="454" r="10"/><circle cx="806" cy="363" r="13"/><circle cx="668" cy="294" r="9"/><circle cx="619" cy="120" r="9"/><circle cx="665" cy="200" r="13"/><circle cx="554" cy="266" r="12"/><circle cx="769" cy="158" r="13"/><circle cx="809" cy="269" r="12"/><circle cx="728" cy="85" r="10"/><circle cx="622" cy="68" r="11"/><circle cx="819" cy="356" r="10"/><circle cx="795" cy="461" r="13"/><circle cx="747" cy="338" r="12"/><circle cx="831" cy="272" r="11"/><circle cx="660" cy="333" r="11"/><circle cx="579" cy="272" r="12"/><circle cx="654" cy="411" r="13"/><circle cx="791" cy="434" r="12"/><circle cx="780" cy="171" r="11"/><circle cx="770" cy="260" r="12"/><circle cx="715" cy="269" r="12"/><circle cx="766" cy="129" r="11"/><circle cx="860" cy="440" r="9"/><circle cx="705" cy="79" r="9"/><circle cx="843" cy="396" r="10"/><circle cx="613" cy="194" r="12"/><circle cx="613" cy="337" r="9"/><circle cx="864" cy="344" r="12"/><circle cx="684" cy="94" r="9"/><circle cx="591" cy="252" r="13"/><circle cx="716" cy="65" r="13"/><circle cx="634" cy="226" r="13"/><circle cx="478" cy="164" r="10"/><circle cx="771" cy="183" r="13"/><circle cx="802" cy="409" r="13"/><circle cx="740" cy="266" r="11"/><circle cx="572" cy="123" r="13"/><circle cx="754" cy="103" r="13"/><circle cx="646" cy="345" r="9"/><circle cx="715" cy="31" r="10"/><circle cx="617" cy="350" r="10"/><circle cx="652" cy="230" r="11"/><circle cx="674" cy="65" r="11"/><circle cx="918" cy="238" r="11"/><circle cx="767" cy="294" r="13"/><circle cx="554" cy="146" r="11"/><circle cx="683" cy="159" r="10"/><circle cx="739" cy="464" r="9"/><circle cx="824" cy="293" r="10"/><circle cx="703" cy="420" r="9"/><circle cx="567" cy="234" r="10"/><circle cx="607" cy="208" r="12"/><circle cx="626" cy="171" r="11"/><circle cx="602" cy="288" r="10"/><circle cx="739" cy="212" r="9"/><circle cx="616" cy="181" r="13"/><circle cx="735" cy="128" r="10"/><circle cx="707" cy="318" r="12"/><circle cx="739" cy="285" r="10"/><circle cx="832" cy="462" r="13"/><circle cx="616" cy="160" r="9"/><circle cx="745" cy="116" r="11"/><circle cx="661" cy="125" r="12"/><circle cx="686" cy="357" r="13"/><circle cx="639" cy="333" r="12"/><circle cx="711" cy="453" r="10"/><circle cx="661" cy="52" r="10"/><circle cx="658" cy="110" r="10"/><circle cx="838" cy="369" r="13"/><circle cx="778" cy="447" r="9"/><circle cx="606" cy="169" r="12"/><circle cx="642" cy="210" r="12"/><circle cx="840" cy="143" r="12"/><circle cx="596" cy="349" r="9"/><circle cx="749" cy="323" r="11"/><circle cx="638" cy="251" r="9"/><circle cx="847" cy="382" r="11"/><circle cx="802" cy="131" r="11"/><circle cx="778" cy="99" r="9"/><circle cx="878" cy="407" r="12"/><circle cx="754" cy="140" r="10"/><circle cx="787" cy="117" r="10"/><circle cx="639" cy="282" r="12"/><circle cx="901" cy="170" r="9"/><circle cx="824" cy="425" r="11"/><circle cx="898" cy="184" r="10"/><circle cx="749" cy="427" r="10"/><circle cx="660" cy="268" r="12"/><circle cx="793" cy="300" r="9"/><circle cx="543" cy="243" r="11"/><circle cx="872" cy="240" r="10"/><circle cx="593" cy="64" r="13"/><circle cx="718" cy="242" r="12"/><circle cx="550" cy="192" r="9"/><circle cx="781" cy="199" r="10"/><circle cx="803" cy="153" r="11"/><circle cx="713" cy="132" r="10"/><circle cx="651" cy="175" r="11"/><circle cx="853" cy="350" r="13"/><circle cx="935" cy="221" r="12"/><circle cx="645" cy="385" r="12"/><circle cx="723" cy="375" r="13"/><circle cx="880" cy="425" r="12"/><circle cx="836" cy="349" r="11"/><circle cx="591" cy="194" r="10"/><circle cx="679" cy="136" r="13"/><circle cx="689" cy="427" r="13"/><circle cx="639" cy="142" r="11"/><circle cx="784" cy="219" r="10"/><circle cx="725" cy="317" r="9"/><circle cx="814" cy="440" r="12"/><circle cx="847" cy="169" r="10"/><circle cx="638" cy="115" r="9"/><circle cx="676" cy="223" r="11"/><circle cx="794" cy="249" r="13"/><circle cx="761" cy="200" r="11"/><circle cx="664" cy="184" r="10"/><circle cx="543" cy="175" r="13"/><circle cx="699" cy="219" r="12"/><circle cx="669" cy="414" r="11"/><circle cx="685" cy="310" r="12"/><circle cx="721" cy="152" r="10"/><circle cx="788" cy="232" r="10"/><circle cx="765" cy="464" r="10"/><circle cx="801" cy="385" r="9"/><circle cx="821" cy="317" r="12"/><circle cx="673" cy="250" r="9"/><circle cx="744" cy="410" r="10"/><circle cx="571" cy="209" r="9"/><circle cx="649" cy="425" r="12"/><circle cx="747" cy="88" r="10"/><circle cx="595" cy="152" r="9"/><circle cx="782" cy="382" r="9"/><circle cx="559" cy="100" r="11"/><circle cx="712" cy="393" r="10"/><circle cx="785" cy="261" r="11"/><circle cx="730" cy="305" r="13"/><circle cx="826" cy="157" r="11"/><circle cx="567" cy="350" r="12"/><circle cx="581" cy="134" r="12"/><circle cx="661" cy="352" r="10"/><circle cx="560" cy="160" r="13"/><circle cx="842" cy="313" r="10"/><circle cx="767" cy="435" r="10"/><circle cx="865" cy="325" r="10"/><circle cx="770" cy="115" r="12"/><circle cx="645" cy="269" r="10"/><circle cx="499" cy="176" r="13"/><circle cx="771" cy="361" r="9"/><circle cx="696" cy="277" r="13"/><circle cx="573" cy="95" r="13"/><circle cx="756" cy="370" r="9"/><circle cx="542" cy="213" r="9"/><circle cx="847" cy="325" r="12"/><circle cx="863" cy="425" r="12"/><circle cx="731" cy="59" r="9"/><circle cx="836" cy="435" r="12"/><circle cx="718" cy="331" r="13"/><circle cx="822" cy="182" r="10"/><circle cx="678" cy="373" r="10"/><circle cx="706" cy="152" r="11"/><circle cx="747" cy="248" r="13"/><circle cx="816" cy="126" r="11"/><circle cx="950" cy="241" r="9"/><circle cx="693" cy="342" r="10"/><circle cx="714" cy="184" r="12"/><circle cx="721" cy="411" r="10"/><circle cx="640" cy="97" r="11"/><circle cx="732" cy="161" r="11"/><circle cx="559" cy="283" r="13"/><circle cx="705" cy="370" r="13"/><circle cx="604" cy="246" r="12"/><circle cx="715" cy="255" r="13"/><circle cx="648" cy="42" r="9"/><circle cx="611" cy="321" r="13"/><circle cx="757" cy="396" r="13"/><circle cx="918" cy="196" r="9"/><circle cx="853" cy="410" r="13"/><circle cx="628" cy="133" r="13"/><circle cx="748" cy="302" r="11"/><circle cx="593" cy="94" r="13"/><circle cx="700" cy="192" r="11"/><circle cx="740" cy="174" r="11"/><circle cx="736" cy="394" r="13"/><circle cx="642" cy="78" r="13"/><circle cx="880" cy="208" r="13"/><circle cx="858" cy="220" r="10"/><circle cx="563" cy="177" r="9"/><circle cx="653" cy="308" r="13"/><circle cx="511" cy="150" r="11"/><circle cx="902" cy="221" r="10"/><circle cx="808" cy="182" r="11"/><circle cx="769" cy="384" r="9"/><circle cx="584" cy="290" r="11"/><circle cx="722" cy="46" r="12"/><circle cx="691" cy="390" r="9"/><circle cx="784" cy="413" r="9"/><circle cx="635" cy="296" r="9"/><circle cx="794" cy="315" r="12"/><circle cx="690" cy="144" r="13"/><circle cx="720" cy="428" r="13"/><circle cx="746" cy="356" r="9"/><circle cx="632" cy="401" r="12"/><circle cx="575" cy="309" r="12"/><circle cx="573" cy="332" r="13"/><circle cx="918" cy="217" r="13"/><circle cx="664" cy="162" r="12"/><circle cx="625" cy="100" r="12"/><circle cx="634" cy="53" r="9"/><circle cx="831" cy="171" r="10"/><circle cx="742" cy="381" r="9"/><circle cx="712" cy="165" r="9"/><circle cx="817" cy="465" r="12"/><circle cx="680" cy="37" r="9"/><circle cx="569" cy="143" r="10"/><circle cx="764" cy="278" r="11"/><circle cx="608" cy="145" r="13"/><circle cx="800" cy="112" r="12"/><circle cx="829" cy="391" r="12"/><circle cx="786" cy="359" r="12"/><circle cx="775" cy="313" r="10"/><circle cx="622" cy="85" r="12"/><circle cx="794" cy="189" r="12"/><circle cx="588" cy="322" r="11"/><circle cx="616" cy="241" r="12"/><circle cx="943" cy="194" r="10"/><circle cx="605" cy="230" r="9"/><circle cx="486" cy="153" r="9"/><circle cx="694" cy="377" r="12"/><circle cx="656" cy="285" r="10"/><circle cx="709" cy="115" r="12"/><circle cx="697" cy="23" r="11"/><circle cx="688" cy="126" r="13"/><circle cx="728" cy="228" r="10"/><circle cx="837" cy="297" r="12"/><circle cx="819" cy="409" r="13"/><circle cx="834" cy="191" r="13"/><circle cx="764" cy="228" r="11"/><circle cx="674" cy="327" r="10"/><circle cx="623" cy="385" r="12"/><circle cx="553" cy="117" r="12"/><circle cx="860" cy="391" r="12"/><circle cx="514" cy="169" r="11"/><circle cx="692" cy="327" r="13"/><circle cx="616" cy="220" r="12"/><circle cx="710" cy="293" r="13"/><circle cx="688" cy="179" r="9"/><circle cx="686" cy="239" r="10"/><circle cx="826" cy="340" r="11"/><circle cx="581" cy="182" r="10"/><circle cx="704" cy="233" r="11"/><circle cx="588" cy="308" r="12"/><circle cx="665" cy="237" r="10"/><circle cx="645" cy="162" r="9"/><circle cx="807" cy="315" r="13"/><circle cx="684" cy="197" r="10"/><circle cx="726" cy="290" r="9"/><circle cx="638" cy="181" r="13"/><circle cx="694" cy="38" r="11"/><circle cx="660" cy="36" r="13"/><circle cx="676" cy="434" r="12"/><circle cx="689" cy="58" r="12"/><circle cx="746" cy="162" r="9"/><circle cx="571" cy="73" r="10"/><circle cx="871" cy="172" r="12"/><circle cx="944" cy="258" r="10"/><circle cx="659" cy="148" r="11"/><circle cx="825" cy="141" r="11"/><circle cx="742" cy="233" r="13"/><circle cx="618" cy="262" r="10"/><circle cx="699" cy="304" r="11"/><circle cx="690" cy="107" r="9"/><circle cx="957" cy="228" r="9"/><circle cx="733" cy="106" r="11"/><circle cx="632" cy="348" r="13"/><circle cx="602" cy="85" r="11"/><circle cx="636" cy="414" r="10"/><circle cx="606" cy="127" r="13"/><circle cx="759" cy="345" r="10"/><circle cx="652" cy="253" r="10"/><circle cx="679" cy="341" r="13"/><circle cx="765" cy="477" r="11"/><circle cx="702" cy="206" r="12"/><circle cx="758" cy="416" r="10"/><circle cx="664" cy="380" r="12"/><circle cx="654" cy="369" r="12"/><circle cx="649" cy="191" r="12"/><circle cx="656" cy="69" r="12"/><circle cx="815" cy="377" r="12"/><circle cx="755" cy="259" r="13"/><circle cx="910" cy="207" r="11"/><circle cx="597" cy="332" r="10"/><circle cx="728" cy="363" r="12"/><circle cx="565" cy="257" r="13"/><circle cx="931" cy="248" r="11"/><circle cx="781" cy="466" r="9"/><circle cx="550" cy="132" r="10"/><circle cx="675" cy="51" r="10"/><circle cx="663" cy="429" r="9"/><circle cx="783" cy="340" r="11"/><circle cx="582" cy="342" r="11"/><circle cx="808" cy="424" r="9"/><circle cx="753" cy="286" r="9"/><circle cx="615" cy="289" r="13"/><circle cx="942" cy="208" r="13"/><circle cx="795" cy="203" r="9"/><circle cx="695" cy="409" r="12"/><circle cx="884" cy="166" r="13"/><circle cx="485" cy="184" r="12"/><circle cx="850" cy="191" r="12"/><circle cx="630" cy="193" r="10"/><circle cx="644" cy="127" r="9"/><circle cx="702" cy="102" r="13"/><circle cx="680" cy="272" r="10"/><circle cx="631" cy="262" r="9"/><circle cx="723" cy="118" r="11"/><circle cx="815" cy="396" r="10"/><circle cx="657" cy="210" r="12"/><circle cx="797" cy="348" r="11"/><circle cx="690" cy="252" r="9"/><circle cx="822" cy="450" r="11"/><circle cx="579" cy="223" r="10"/><circle cx="572" cy="285" r="10"/><circle cx="528" cy="159" r="13"/><circle cx="671" cy="362" r="12"/><circle cx="801" cy="286" r="13"/><circle cx="877" cy="188" r="9"/><circle cx="749" cy="64" r="11"/><circle cx="798" cy="217" r="10"/><circle cx="740" cy="77" r="12"/><circle cx="791" cy="396" r="12"/><circle cx="879" cy="353" r="13"/><circle cx="628" cy="370" r="10"/><circle cx="596" cy="137" r="10"/><circle cx="772" cy="419" r="13"/><circle cx="771" cy="142" r="13"/><circle cx="687" cy="445" r="12"/><circle cx="588" cy="77" r="9"/><circle cx="591" cy="123" r="13"/><circle cx="716" cy="221" r="9"/><circle cx="605" cy="304" r="9"/><circle cx="599" cy="183" r="12"/><circle cx="682" cy="288" r="10"/><circle cx="498" cy="160" r="10"/><circle cx="557" cy="207" r="9"/><circle cx="727" cy="258" r="12"/><circle cx="684" cy="21" r="13"/><circle cx="593" cy="274" r="13"/><circle cx="544" cy="257" r="13"/><circle cx="788" cy="156" r="13"/><circle cx="730" cy="349" r="12"/><circle cx="793" cy="371" r="12"/><circle cx="760" cy="84" r="11"/><circle cx="695" cy="291" r="10"/><circle cx="699" cy="134" r="11"/><circle cx="723" cy="464" r="10"/><circle cx="813" cy="334" r="11"/><circle cx="622" cy="206" r="11"/><circle cx="674" cy="401" r="11"/><circle cx="581" cy="150" r="9"/><circle cx="677" cy="186" r="9"/><circle cx="727" cy="274" r="9"/><circle cx="858" cy="245" r="10"/><circle cx="596" cy="218" r="13"/><circle cx="621" cy="46" r="9"/><circle cx="850" cy="430" r="10"/><circle cx="474" cy="177" r="11"/><circle cx="726" cy="448" r="11"/><circle cx="760" cy="316" r="11"/><circle cx="704" cy="333" r="9"/><circle cx="855" cy="147" r="10"/><circle cx="590" cy="232" r="9"/><circle cx="661" cy="319" r="13"/><circle cx="571" cy="193" r="12"/><circle cx="846" cy="283" r="11"/><circle cx="516" cy="184" r="12"/><circle cx="676" cy="121" r="10"/><circle cx="646" cy="399" r="9"/><circle cx="892" cy="201" r="9"/><circle cx="734" cy="419" r="10"/><circle cx="714" cy="306" r="11"/><circle cx="881" cy="393" r="13"/><circle cx="658" cy="395" r="11"/><circle cx="793" cy="447" r="12"/><circle cx="802" cy="239" r="10"/><circle cx="841" cy="204" r="10"/><circle cx="809" cy="453" r="13"/><circle cx="727" cy="177" r="12"/><circle cx="873" cy="443" r="9"/><circle cx="753" cy="471" r="11"/><circle cx="754" cy="215" r="10"/><circle cx="957" cy="197" r="10"/><circle cx="927" cy="208" r="13"/><circle cx="677" cy="173" r="9"/><circle cx="851" cy="363" r="11"/><circle cx="937" cy="234" r="13"/><circle cx="873" cy="221" r="13"/><circle cx="563" cy="86" r="10"/><circle cx="559" cy="300" r="9"/><circle cx="779" cy="248" r="11"/><circle cx="793" cy="175" r="12"/><circle cx="668" cy="308" r="12"/><circle cx="642" cy="64" r="10"/><circle cx="845" cy="338" r="12"/><circle cx="862" cy="311" r="9"/><circle cx="539" cy="200" r="11"/><circle cx="834" cy="323" r="9"/><circle cx="806" cy="472" r="10"/><circle cx="734" cy="335" r="13"/><circle cx="752" cy="272" r="13"/><circle cx="599" cy="108" r="13"/><circle cx="817" cy="281" r="9"/><circle cx="596" cy="51" r="11"/><circle cx="713" cy="440" r="12"/><circle cx="557" cy="244" r="10"/><circle cx="607" cy="72" r="12"/><circle cx="654" cy="98" r="11"/><circle cx="686" cy="211" r="9"/><circle cx="844" cy="156" r="11"/><circle cx="703" cy="246" r="10"/><circle cx="673" cy="150" r="13"/><circle cx="779" cy="300" r="11"/><circle cx="860" cy="375" r="13"/><circle cx="784" cy="326" r="9"/></g>
<radialGradient id="shB" cx="0.42" cy="0.4" r="0.6" fx="0.36" fy="0.33"><stop offset="0" stop-color="#fff" stop-opacity="0.22"/><stop offset="0.45" stop-color="#fff" stop-opacity="0.03"/><stop offset="0.75" stop-color="#000" stop-opacity="0"/><stop offset="1" stop-color="#000" stop-opacity="0.2"/></radialGradient>
<mask id="mB" maskUnits="userSpaceOnUse" x="430" y="0" width="560" height="500"><path d="M460.0,170.0C459.7,165.3 464.7,162.0 468.0,158.0C471.3,154.0 475.5,149.0 480.0,146.0C484.5,143.0 489.7,140.7 495.0,140.0C500.3,139.3 506.5,140.5 512.0,142.0C517.5,143.5 523.3,149.7 528.0,149.0C532.7,148.3 536.7,143.2 540.0,138.0C543.3,132.8 546.2,125.7 548.0,118.0C549.8,110.3 549.7,100.7 551.0,92.0C552.3,83.3 553.2,72.3 556.0,66.0C558.8,59.7 563.0,57.3 568.0,54.0C573.0,50.7 578.7,48.0 586.0,46.0C593.3,44.0 603.3,43.0 612.0,42.0C620.7,41.0 630.8,41.8 638.0,40.0C645.2,38.2 650.0,34.5 655.0,31.0C660.0,27.5 663.3,22.3 668.0,19.0C672.7,15.7 677.0,12.2 683.0,11.0C689.0,9.8 697.2,10.0 704.0,12.0C710.8,14.0 718.7,18.2 724.0,23.0C729.3,27.8 731.3,35.3 736.0,41.0C740.7,46.7 747.5,51.0 752.0,57.0C756.5,63.0 758.2,71.3 763.0,77.0C767.8,82.7 774.3,86.0 781.0,91.0C787.7,96.0 795.5,103.0 803.0,107.0C810.5,111.0 818.3,110.2 826.0,115.0C833.7,119.8 841.0,129.5 849.0,136.0C857.0,142.5 866.2,150.0 874.0,154.0C881.8,158.0 889.8,157.2 896.0,160.0C902.2,162.8 906.8,166.3 911.0,171.0C915.2,175.7 915.3,185.2 921.0,188.0C926.7,190.8 938.0,187.5 945.0,188.0C952.0,188.5 958.5,187.3 963.0,191.0C967.5,194.7 971.2,202.5 972.0,210.0C972.8,217.5 970.5,229.5 968.0,236.0C965.5,242.5 959.2,244.7 957.0,249.0C954.8,253.3 958.5,258.8 955.0,262.0C951.5,265.2 941.8,269.2 936.0,268.0C930.2,266.8 925.0,259.5 920.0,255.0C915.0,250.5 910.0,246.3 906.0,241.0C902.0,235.7 899.3,227.7 896.0,223.0C892.7,218.3 888.7,212.5 886.0,213.0C883.3,213.5 881.3,220.7 880.0,226.0C878.7,231.3 880.2,240.5 878.0,245.0C875.8,249.5 871.3,252.2 867.0,253.0C862.7,253.8 855.5,252.8 852.0,250.0C848.5,247.2 846.3,241.2 846.0,236.0C845.7,230.8 850.3,223.0 850.0,219.0C849.7,215.0 847.7,213.7 844.0,212.0C840.3,210.3 832.5,211.3 828.0,209.0C823.5,206.7 819.8,201.7 817.0,198.0C814.2,194.3 812.8,185.8 811.0,187.0C809.2,188.2 806.8,197.8 806.0,205.0C805.2,212.2 805.3,222.5 806.0,230.0C806.7,237.5 807.3,245.3 810.0,250.0C812.7,254.7 816.8,256.0 822.0,258.0C827.2,260.0 835.8,258.0 841.0,262.0C846.2,266.0 847.7,272.7 853.0,282.0C858.3,291.3 867.3,305.3 873.0,318.0C878.7,330.7 884.5,341.3 887.0,358.0C889.5,374.7 889.2,403.2 888.0,418.0C886.8,432.8 887.0,439.5 880.0,447.0C873.0,454.5 859.0,457.7 846.0,463.0C833.0,468.3 815.2,475.7 802.0,479.0C788.8,482.3 778.8,483.5 767.0,483.0C755.2,482.5 741.7,479.5 731.0,476.0C720.3,472.5 712.3,466.7 703.0,462.0C693.7,457.3 684.3,452.8 675.0,448.0C665.7,443.2 655.2,439.0 647.0,433.0C638.8,427.0 631.3,420.2 626.0,412.0C620.7,403.8 617.5,392.7 615.0,384.0C612.5,375.3 615.2,363.7 611.0,360.0C606.8,356.3 597.8,362.7 590.0,362.0C582.2,361.3 569.5,360.0 564.0,356.0C558.5,352.0 557.2,344.3 557.0,338.0C556.8,331.7 564.8,325.7 563.0,318.0C561.2,310.3 550.7,302.0 546.0,292.0C541.3,282.0 537.3,269.7 535.0,258.0C532.7,246.3 532.7,232.0 532.0,222.0C531.3,212.0 533.0,203.2 531.0,198.0C529.0,192.8 526.8,192.2 520.0,191.0C513.2,189.8 498.3,191.8 490.0,191.0C481.7,190.2 475.0,189.5 470.0,186.0C465.0,182.5 460.3,174.7 460.0,170.0Z" fill="#fff"/><use href="#atomsB" fill="#fff"/></mask>
</defs>
<use href="#atomsB" fill="none" stroke="#6c6c90" stroke-width="1.6" opacity="0.55"/>
<g mask="url(#mB)">
<g>
<rect x="440" y="0" width="545" height="500" fill="#b9b9ec"/>
<g>
<g filter="url(#blB6)">
<path d="M545.0,50.0C555.3,35.3 583.3,42.3 600.0,42.0C616.7,41.7 635.8,35.0 645.0,48.0C654.2,61.0 655.0,94.7 655.0,120.0C655.0,145.3 654.2,181.7 645.0,200.0C635.8,218.3 615.8,228.3 600.0,230.0C584.2,231.7 560.3,226.7 550.0,210.0C539.7,193.3 538.8,156.7 538.0,130.0C537.2,103.3 534.7,64.7 545.0,50.0Z" fill="#9c9eea" opacity="1.0"/>
<ellipse cx="595" cy="110" rx="18" ry="30" fill="#c4c4ee" opacity="0.8" transform="rotate(0 595 110)"/>
<ellipse cx="560" cy="150" rx="14" ry="22" fill="#bcbcec" opacity="0.8" transform="rotate(0 560 150)"/>
<path d="M460.0,170.0C462.5,164.2 470.0,153.7 480.0,150.0C490.0,146.3 510.0,146.3 520.0,148.0C530.0,149.7 537.5,153.0 540.0,160.0C542.5,167.0 541.7,184.7 535.0,190.0C528.3,195.3 511.7,192.8 500.0,192.0C488.3,191.2 471.7,188.7 465.0,185.0C458.3,181.3 457.5,175.8 460.0,170.0Z" fill="#8a90e2" opacity="1.0"/>
<path d="M535.0,195.0C543.0,185.0 567.2,185.0 580.0,190.0C592.8,195.0 605.7,206.7 612.0,225.0C618.3,243.3 619.2,278.3 618.0,300.0C616.8,321.7 613.8,345.8 605.0,355.0C596.2,364.2 575.0,364.2 565.0,355.0C555.0,345.8 550.5,317.5 545.0,300.0C539.5,282.5 533.7,267.5 532.0,250.0C530.3,232.5 527.0,205.0 535.0,195.0Z" fill="#e2dad6" opacity="1.0"/>
<path d="M556.0,322.0C561.5,315.7 575.7,307.7 585.0,304.0C594.3,300.3 606.5,293.2 612.0,300.0C617.5,306.8 619.3,334.3 618.0,345.0C616.7,355.7 612.7,361.2 604.0,364.0C595.3,366.8 574.7,365.7 566.0,362.0C557.3,358.3 553.7,348.7 552.0,342.0C550.3,335.3 550.5,328.3 556.0,322.0Z" fill="#b2b2e8" opacity="0.95"/>
<ellipse cx="575" cy="345" rx="10" ry="7" fill="#d6d6f4" opacity="0.7" transform="rotate(0 575 345)"/>
<ellipse cx="574" cy="238" rx="15" ry="20" fill="#9a6a48" opacity="0.95" transform="rotate(0 574 238)"/>
<ellipse cx="618" cy="218" rx="14" ry="16" fill="#a27452" opacity="0.8" transform="rotate(0 618 218)"/>
<ellipse cx="607" cy="105" rx="8" ry="28" fill="#a88a7a" opacity="0.7" transform="rotate(0 607 105)"/>
<path d="M655.0,35.0C659.7,22.0 678.3,14.2 690.0,12.0C701.7,9.8 713.3,12.3 725.0,22.0C736.7,31.7 752.5,55.3 760.0,70.0C767.5,84.7 773.3,100.0 770.0,110.0C766.7,120.0 751.7,128.3 740.0,130.0C728.3,131.7 713.0,126.7 700.0,120.0C687.0,113.3 669.5,104.2 662.0,90.0C654.5,75.8 650.3,48.0 655.0,35.0Z" fill="#d2c6bc" opacity="1.0"/>
<ellipse cx="690" cy="30" rx="20" ry="14" fill="#b49c88" opacity="0.75" transform="rotate(0 690 30)"/>
<ellipse cx="664" cy="95" rx="11" ry="35" fill="#a07a68" opacity="0.65" transform="rotate(0 664 95)"/>
<path d="M628.0,60.0C632.7,35.8 648.0,41.7 660.0,55.0C672.0,68.3 690.7,105.8 700.0,140.0C709.3,174.2 717.3,228.3 716.0,260.0C714.7,291.7 703.0,320.8 692.0,330.0C681.0,339.2 660.0,336.7 650.0,315.0C640.0,293.3 635.7,242.5 632.0,200.0C628.3,157.5 623.3,84.2 628.0,60.0Z" fill="#aaa4de" opacity="1.0"/>
<ellipse cx="650" cy="160" rx="12" ry="36" fill="#ccc4dc" opacity="0.65" transform="rotate(0 650 160)"/>
</g>
<g filter="url(#blB15)">
<path d="M596.0,62.0C595.0,75.0 591.7,115.0 590.0,140.0C588.3,165.0 584.3,191.7 586.0,212.0C587.7,232.3 594.8,248.7 600.0,262.0C605.2,275.3 614.2,287.0 617.0,292.0" fill="none" stroke="#a6e2e6" stroke-width="14" stroke-linecap="round" opacity="0.7"/>
<path d="M614.0,72.0C615.2,83.2 620.3,120.7 621.0,139.0C621.7,157.3 618.5,174.8 618.0,182.0" fill="none" stroke="#8a9c8c" stroke-width="11" stroke-linecap="round" opacity="0.65"/>
<path d="M686.0,52.0C685.3,68.3 683.8,120.3 682.0,150.0C680.2,179.7 677.3,206.7 675.0,230.0C672.7,253.3 669.8,273.3 668.0,290.0C666.2,306.7 664.7,323.3 664.0,330.0" fill="none" stroke="#8f80d6" stroke-width="20" stroke-linecap="round" opacity="0.75"/>
<path d="M650.0,178.0C649.2,190.0 646.8,226.2 645.0,250.0C643.2,273.8 640.0,309.2 639.0,321.0" fill="none" stroke="#d0d0f0" stroke-width="15" stroke-linecap="round" opacity="0.55"/>
<path d="M719.0,88.0C718.5,101.7 717.8,143.0 716.0,170.0C714.2,197.0 710.5,224.7 708.0,250.0C705.5,275.3 702.2,310.0 701.0,322.0" fill="none" stroke="#cc84d0" stroke-width="16" stroke-linecap="round" opacity="0.75"/>
<path d="M756.0,140.0C755.3,150.0 753.3,181.3 752.0,200.0C750.7,218.7 748.7,243.3 748.0,252.0" fill="none" stroke="#c06a30" stroke-width="16" stroke-linecap="round" opacity="0.8"/>
<path d="M556.0,222.0C559.0,217.0 565.0,214.3 570.0,214.0C575.0,213.7 582.3,216.3 586.0,220.0C589.7,223.7 591.3,230.7 592.0,236.0C592.7,241.3 592.3,247.7 590.0,252.0C587.7,256.3 582.7,261.0 578.0,262.0C573.3,263.0 566.3,261.0 562.0,258.0C557.7,255.0 553.0,250.0 552.0,244.0C551.0,238.0 553.0,227.0 556.0,222.0Z" fill="#9a6a48" opacity="0.95"/>
<path d="M598.0,206.0C600.7,202.3 607.0,199.7 612.0,200.0C617.0,200.3 624.7,204.0 628.0,208.0C631.3,212.0 633.0,219.3 632.0,224.0C631.0,228.7 626.3,234.3 622.0,236.0C617.7,237.7 610.3,236.3 606.0,234.0C601.7,231.7 597.3,226.7 596.0,222.0C594.7,217.3 595.3,209.7 598.0,206.0Z" fill="#a07050" opacity="0.9"/>
<path d="M690.0,170.0C692.3,164.7 700.7,164.0 706.0,164.0C711.3,164.0 718.3,166.3 722.0,170.0C725.7,173.7 728.0,180.3 728.0,186.0C728.0,191.7 726.0,200.3 722.0,204.0C718.0,207.7 709.0,209.3 704.0,208.0C699.0,206.7 694.3,202.3 692.0,196.0C689.7,189.7 687.7,175.3 690.0,170.0Z" fill="#a0586a" opacity="0.85"/>
<path d="M626.0,150.0C628.0,145.0 635.3,145.3 640.0,146.0C644.7,146.7 651.7,149.7 654.0,154.0C656.3,158.3 656.3,167.3 654.0,172.0C651.7,176.7 644.3,181.3 640.0,182.0C635.7,182.7 630.3,181.3 628.0,176.0C625.7,170.7 624.0,155.0 626.0,150.0Z" fill="#a08478" opacity="0.7"/>
<path d="M600.0,84.0C602.0,77.3 608.0,78.7 612.0,80.0C616.0,81.3 622.3,85.7 624.0,92.0C625.7,98.3 624.3,111.3 622.0,118.0C619.7,124.7 613.7,131.7 610.0,132.0C606.3,132.3 601.7,128.0 600.0,120.0C598.3,112.0 598.0,90.7 600.0,84.0Z" fill="#98704e" opacity="0.8"/>
<path d="M660.0,65.0C661.7,60.0 668.0,57.8 672.0,58.0C676.0,58.2 682.0,60.7 684.0,66.0C686.0,71.3 686.0,84.7 684.0,90.0C682.0,95.3 675.7,98.3 672.0,98.0C668.3,97.7 664.0,93.5 662.0,88.0C660.0,82.5 658.3,70.0 660.0,65.0Z" fill="#9c7660" opacity="0.75"/>
<ellipse cx="700" cy="48" rx="28" ry="20" fill="#c8bcb2" opacity="0.8" transform="rotate(0 700 48)"/>
</g>
<g filter="url(#blB6)">
<path d="M760.0,85.0C768.7,82.2 786.7,97.8 800.0,103.0C813.3,108.2 828.3,109.3 840.0,116.0C851.7,122.7 860.8,136.0 870.0,143.0C879.2,150.0 889.7,151.8 895.0,158.0C900.3,164.2 902.0,172.2 902.0,180.0C902.0,187.8 899.5,200.0 895.0,205.0C890.5,210.0 882.5,210.0 875.0,210.0C867.5,210.0 858.3,207.5 850.0,205.0C841.7,202.5 833.3,200.5 825.0,195.0C816.7,189.5 809.2,179.5 800.0,172.0C790.8,164.5 778.7,158.7 770.0,150.0C761.3,141.3 749.7,130.8 748.0,120.0C746.3,109.2 751.3,87.8 760.0,85.0Z" fill="#87522a" opacity="1.0"/>
<path d="M735.0,150.0C739.3,141.7 752.8,138.3 758.0,150.0C763.2,161.7 766.0,200.3 766.0,220.0C766.0,239.7 763.0,261.0 758.0,268.0C753.0,275.0 740.3,273.3 736.0,262.0C731.7,250.7 732.2,218.7 732.0,200.0C731.8,181.3 730.7,158.3 735.0,150.0Z" fill="#b0703c" opacity="0.9"/>
<ellipse cx="782" cy="112" rx="14" ry="18" fill="#c8b2a2" opacity="0.45" transform="rotate(0 782 112)"/>
<path d="M765.0,150.0C769.7,143.0 782.5,153.8 790.0,158.0C797.5,162.2 806.3,165.5 810.0,175.0C813.7,184.5 813.7,204.2 812.0,215.0C810.3,225.8 806.2,236.2 800.0,240.0C793.8,243.8 781.3,244.7 775.0,238.0C768.7,231.3 763.7,214.7 762.0,200.0C760.3,185.3 760.3,157.0 765.0,150.0Z" fill="#cdb89a" opacity="0.9"/>
<ellipse cx="790" cy="200" rx="10" ry="18" fill="#b88a50" opacity="0.7" transform="rotate(0 790 200)"/>
<path d="M895.0,180.0C902.0,173.7 927.8,181.3 940.0,184.0C952.2,186.7 962.7,189.2 968.0,196.0C973.3,202.8 974.2,216.3 972.0,225.0C969.8,233.7 962.8,244.7 955.0,248.0C947.2,251.3 934.5,249.3 925.0,245.0C915.5,240.7 903.0,232.8 898.0,222.0C893.0,211.2 888.0,186.3 895.0,180.0Z" fill="#e0d6ce" opacity="1.0"/>
<ellipse cx="866" cy="212" rx="10" ry="8" fill="#c8c0d8" opacity="0.7" transform="rotate(0 866 212)"/>
<path d="M612.0,300.0C618.3,288.7 635.3,292.0 650.0,292.0C664.7,292.0 681.7,304.0 700.0,300.0C718.3,296.0 740.0,276.0 760.0,268.0C780.0,260.0 803.3,252.0 820.0,252.0C836.7,252.0 849.2,255.0 860.0,268.0C870.8,281.0 880.3,304.7 885.0,330.0C889.7,355.3 890.5,399.2 888.0,420.0C885.5,440.8 884.7,444.7 870.0,455.0C855.3,465.3 823.3,478.3 800.0,482.0C776.7,485.7 753.3,482.8 730.0,477.0C706.7,471.2 677.5,457.8 660.0,447.0C642.5,436.2 633.0,426.5 625.0,412.0C617.0,397.5 614.2,378.7 612.0,360.0C609.8,341.3 605.7,311.3 612.0,300.0Z" fill="#2626f0" opacity="1.0"/>
<path d="M690.0,300.0C695.0,291.7 718.3,290.0 730.0,290.0C741.7,290.0 752.5,293.3 760.0,300.0C767.5,306.7 776.7,322.5 775.0,330.0C773.3,337.5 762.5,343.3 750.0,345.0C737.5,346.7 710.0,347.5 700.0,340.0C690.0,332.5 685.0,308.3 690.0,300.0Z" fill="#8a8ae8" opacity="0.85"/>
<path d="M664.0,372.0C668.0,363.2 687.3,354.0 700.0,352.0C712.7,350.0 728.0,353.7 740.0,360.0C752.0,366.3 762.0,379.2 772.0,390.0C782.0,400.8 794.3,413.7 800.0,425.0C805.7,436.3 808.7,451.2 806.0,458.0C803.3,464.8 793.3,467.7 784.0,466.0C774.7,464.3 762.0,454.3 750.0,448.0C738.0,441.7 724.3,435.2 712.0,428.0C699.7,420.8 684.0,414.3 676.0,405.0C668.0,395.7 660.0,380.8 664.0,372.0Z" fill="#b2b2ec" opacity="0.85"/>
<ellipse cx="760" cy="415" rx="18" ry="16" fill="#d4d4f2" opacity="0.75" transform="rotate(0 760 415)"/>
<ellipse cx="800" cy="330" rx="18" ry="14" fill="#6a6aee" opacity="0.6" transform="rotate(0 800 330)"/>
</g>
<g filter="url(#blB3)">
<ellipse cx="494" cy="153" rx="16" ry="13" fill="#1414d4" opacity="1.0" transform="rotate(0 494 153)"/>
<ellipse cx="864" cy="236" rx="14" ry="14" fill="#1a1ada" opacity="1.0" transform="rotate(0 864 236)"/>
<ellipse cx="938" cy="257" rx="16" ry="10" fill="#1a1ada" opacity="1.0" transform="rotate(0 938 257)"/>
<ellipse cx="567" cy="66" rx="15" ry="20" fill="#2626dc" opacity="0.95" transform="rotate(0 567 66)"/>
<ellipse cx="848" cy="300" rx="30" ry="34" fill="#1c1cf0" opacity="0.85" transform="rotate(0 848 300)"/>
<ellipse cx="862" cy="395" rx="22" ry="40" fill="#1c1cf0" opacity="0.85" transform="rotate(0 862 395)"/>
<ellipse cx="636" cy="375" rx="20" ry="30" fill="#1e1ef0" opacity="0.85" transform="rotate(0 636 375)"/>
<ellipse cx="700" cy="455" rx="35" ry="18" fill="#2020ee" opacity="0.7" transform="rotate(0 700 455)"/>
</g>
<g fill="#ffffff" filter="url(#blB1)">
<circle cx="679.3" cy="384.3" r="1.7" opacity="0.62"/>
<circle cx="783.9" cy="283.8" r="1.2" opacity="0.73"/>
<circle cx="685.0" cy="319.2" r="2.6" opacity="0.56"/>
<circle cx="840.8" cy="370.0" r="2.1" opacity="0.42"/>
<circle cx="786.4" cy="452.3" r="1.9" opacity="0.68"/>
<circle cx="796.3" cy="283.4" r="2.3" opacity="0.62"/>
<circle cx="696.3" cy="276.5" r="2.4" opacity="0.56"/>
<circle cx="809.1" cy="454.6" r="2.2" opacity="0.76"/>
<circle cx="721.6" cy="438.2" r="1.8" opacity="0.77"/>
<circle cx="852.3" cy="290.5" r="1.4" opacity="0.45"/>
<circle cx="875.7" cy="361.6" r="2.1" opacity="0.49"/>
<circle cx="752.0" cy="351.0" r="1.7" opacity="0.61"/>
<circle cx="772.7" cy="459.9" r="2.2" opacity="0.77"/>
<circle cx="846.2" cy="478.1" r="2.1" opacity="0.42"/>
<circle cx="847.4" cy="472.6" r="2.5" opacity="0.61"/>
<circle cx="807.7" cy="314.3" r="2.4" opacity="0.61"/>
<circle cx="691.9" cy="283.3" r="2.4" opacity="0.80"/>
<circle cx="638.9" cy="438.1" r="1.8" opacity="0.42"/>
<circle cx="694.4" cy="431.4" r="2.4" opacity="0.37"/>
<circle cx="780.9" cy="279.4" r="2.2" opacity="0.50"/>
<circle cx="852.8" cy="475.9" r="1.9" opacity="0.80"/>
<circle cx="698.6" cy="286.2" r="2.0" opacity="0.36"/>
<circle cx="668.3" cy="355.7" r="2.1" opacity="0.42"/>
<circle cx="626.5" cy="452.2" r="1.6" opacity="0.78"/>
<circle cx="857.1" cy="349.3" r="1.8" opacity="0.58"/>
<circle cx="788.8" cy="395.1" r="2.0" opacity="0.63"/>
<circle cx="869.0" cy="376.5" r="1.8" opacity="0.67"/>
<circle cx="679.2" cy="333.2" r="2.6" opacity="0.58"/>
<circle cx="763.1" cy="272.4" r="1.8" opacity="0.61"/>
<circle cx="620.4" cy="399.3" r="2.1" opacity="0.38"/>
<circle cx="784.4" cy="367.9" r="2.2" opacity="0.51"/>
<circle cx="805.9" cy="425.0" r="1.2" opacity="0.38"/>
<circle cx="797.5" cy="472.3" r="1.6" opacity="0.56"/>
<circle cx="775.0" cy="337.2" r="1.7" opacity="0.49"/>
<circle cx="714.7" cy="395.1" r="1.6" opacity="0.52"/>
<circle cx="823.5" cy="275.7" r="2.0" opacity="0.68"/>
<circle cx="698.7" cy="316.7" r="2.3" opacity="0.46"/>
<circle cx="665.6" cy="361.4" r="2.2" opacity="0.40"/>
<circle cx="701.9" cy="340.1" r="2.4" opacity="0.55"/>
<circle cx="846.0" cy="305.5" r="1.7" opacity="0.64"/>
<circle cx="853.9" cy="364.7" r="1.5" opacity="0.40"/>
<circle cx="758.0" cy="310.1" r="2.3" opacity="0.73"/>
<circle cx="664.6" cy="328.5" r="2.3" opacity="0.64"/>
<circle cx="832.7" cy="342.5" r="1.4" opacity="0.48"/>
<circle cx="829.3" cy="326.9" r="1.7" opacity="0.54"/>
<circle cx="728.3" cy="356.0" r="2.5" opacity="0.42"/>
<circle cx="616.3" cy="468.1" r="2.4" opacity="0.79"/>
<circle cx="732.3" cy="469.5" r="2.5" opacity="0.45"/>
<circle cx="816.3" cy="445.7" r="2.1" opacity="0.58"/>
<circle cx="693.0" cy="341.6" r="1.5" opacity="0.38"/>
<circle cx="773.9" cy="330.3" r="2.3" opacity="0.37"/>
<circle cx="859.0" cy="415.7" r="2.5" opacity="0.75"/>
<circle cx="857.9" cy="391.2" r="1.2" opacity="0.69"/>
<circle cx="661.4" cy="333.0" r="2.1" opacity="0.59"/>
<circle cx="726.7" cy="467.2" r="2.1" opacity="0.50"/>
<circle cx="683.2" cy="450.9" r="1.9" opacity="0.70"/>
<circle cx="710.0" cy="311.4" r="1.9" opacity="0.72"/>
<circle cx="661.3" cy="436.3" r="2.5" opacity="0.71"/>
<circle cx="837.3" cy="271.6" r="2.1" opacity="0.74"/>
<circle cx="628.5" cy="327.0" r="1.6" opacity="0.59"/>
<circle cx="729.2" cy="369.3" r="2.3" opacity="0.35"/>
<circle cx="629.8" cy="296.6" r="1.4" opacity="0.38"/>
<circle cx="878.2" cy="449.4" r="1.3" opacity="0.58"/>
<circle cx="700.3" cy="336.1" r="1.7" opacity="0.64"/>
<circle cx="773.4" cy="345.8" r="1.5" opacity="0.50"/>
<circle cx="648.4" cy="386.7" r="2.2" opacity="0.52"/>
<circle cx="636.6" cy="307.5" r="1.7" opacity="0.62"/>
<circle cx="826.3" cy="349.9" r="2.3" opacity="0.63"/>
<circle cx="731.5" cy="348.2" r="1.9" opacity="0.67"/>
<circle cx="728.5" cy="415.8" r="1.8" opacity="0.46"/>
<circle cx="759.7" cy="416.0" r="1.3" opacity="0.54"/>
<circle cx="730.0" cy="454.7" r="2.5" opacity="0.52"/>
<circle cx="857.4" cy="436.1" r="1.6" opacity="0.56"/>
<circle cx="648.2" cy="440.8" r="2.1" opacity="0.75"/>
<circle cx="829.0" cy="410.2" r="2.2" opacity="0.60"/>
<circle cx="642.8" cy="393.4" r="1.2" opacity="0.41"/>
<circle cx="824.1" cy="279.3" r="1.3" opacity="0.39"/>
<circle cx="852.7" cy="307.6" r="1.2" opacity="0.73"/>
<circle cx="647.7" cy="447.2" r="2.1" opacity="0.73"/>
<circle cx="872.2" cy="391.6" r="2.3" opacity="0.37"/>
<circle cx="822.2" cy="377.4" r="2.2" opacity="0.40"/>
<circle cx="817.2" cy="466.3" r="1.3" opacity="0.50"/>
<circle cx="767.3" cy="443.9" r="1.5" opacity="0.43"/>
<circle cx="682.5" cy="399.4" r="2.3" opacity="0.53"/>
<circle cx="714.2" cy="353.3" r="1.7" opacity="0.54"/>
<circle cx="637.5" cy="375.1" r="2.6" opacity="0.54"/>
<circle cx="816.8" cy="303.7" r="2.2" opacity="0.69"/>
<circle cx="796.9" cy="378.6" r="1.9" opacity="0.64"/>
<circle cx="857.3" cy="301.4" r="1.3" opacity="0.69"/>
<circle cx="862.5" cy="378.6" r="1.8" opacity="0.67"/>
<circle cx="665.2" cy="326.1" r="1.5" opacity="0.61"/>
<circle cx="700.0" cy="318.8" r="2.2" opacity="0.78"/>
<circle cx="694.9" cy="418.1" r="1.8" opacity="0.73"/>
<circle cx="772.9" cy="326.1" r="1.5" opacity="0.36"/>
<circle cx="744.5" cy="350.4" r="1.4" opacity="0.51"/>
<circle cx="702.0" cy="432.6" r="1.4" opacity="0.80"/>
<circle cx="744.5" cy="395.8" r="1.9" opacity="0.73"/>
<circle cx="836.8" cy="387.0" r="1.9" opacity="0.67"/>
<circle cx="846.3" cy="354.1" r="2.2" opacity="0.78"/>
<circle cx="741.2" cy="318.2" r="1.5" opacity="0.67"/>
<circle cx="797.3" cy="471.3" r="2.4" opacity="0.46"/>
<circle cx="666.2" cy="324.3" r="1.5" opacity="0.67"/>
<circle cx="846.8" cy="458.9" r="1.6" opacity="0.74"/>
<circle cx="699.6" cy="358.9" r="2.2" opacity="0.39"/>
<circle cx="640.0" cy="445.1" r="1.6" opacity="0.51"/>
<circle cx="771.7" cy="411.9" r="1.2" opacity="0.50"/>
<circle cx="732.8" cy="372.0" r="1.5" opacity="0.61"/>
<circle cx="872.9" cy="352.1" r="2.0" opacity="0.40"/>
<circle cx="689.2" cy="409.7" r="1.4" opacity="0.75"/>
<circle cx="860.4" cy="290.4" r="2.5" opacity="0.52"/>
<circle cx="823.6" cy="429.0" r="1.6" opacity="0.65"/>
<circle cx="791.6" cy="439.3" r="1.6" opacity="0.69"/>
<circle cx="874.6" cy="411.3" r="2.0" opacity="0.40"/>
<circle cx="748.3" cy="344.0" r="2.2" opacity="0.66"/>
<circle cx="767.9" cy="308.2" r="2.1" opacity="0.63"/>
<circle cx="663.4" cy="456.9" r="2.1" opacity="0.41"/>
<circle cx="866.6" cy="299.7" r="1.7" opacity="0.67"/>
<circle cx="776.3" cy="386.5" r="2.1" opacity="0.56"/>
<circle cx="699.4" cy="307.0" r="1.3" opacity="0.67"/>
<circle cx="818.7" cy="384.1" r="2.2" opacity="0.51"/>
<circle cx="686.8" cy="350.5" r="2.4" opacity="0.37"/>
<circle cx="751.3" cy="321.9" r="2.3" opacity="0.51"/>
<circle cx="704.9" cy="354.7" r="2.0" opacity="0.70"/>
<circle cx="710.3" cy="447.8" r="1.4" opacity="0.47"/>
<circle cx="641.9" cy="293.7" r="2.3" opacity="0.68"/>
<circle cx="664.9" cy="309.7" r="1.8" opacity="0.68"/>
<circle cx="835.3" cy="427.2" r="2.0" opacity="0.42"/>
<circle cx="722.6" cy="310.7" r="1.9" opacity="0.61"/>
<circle cx="669.6" cy="322.5" r="2.3" opacity="0.36"/>
<circle cx="831.9" cy="457.2" r="2.5" opacity="0.52"/>
<circle cx="764.2" cy="392.4" r="2.1" opacity="0.79"/>
<circle cx="800.4" cy="332.9" r="2.4" opacity="0.57"/>
<circle cx="777.4" cy="422.6" r="1.2" opacity="0.70"/>
<circle cx="793.7" cy="373.3" r="1.9" opacity="0.56"/>
<circle cx="667.2" cy="381.2" r="1.3" opacity="0.58"/>
<circle cx="789.4" cy="363.3" r="2.0" opacity="0.78"/>
<circle cx="855.9" cy="298.5" r="2.3" opacity="0.63"/>
<circle cx="628.7" cy="345.6" r="1.5" opacity="0.39"/>
<circle cx="760.5" cy="465.3" r="1.7" opacity="0.74"/>
<circle cx="802.6" cy="298.2" r="2.4" opacity="0.62"/>
<circle cx="865.3" cy="420.3" r="2.2" opacity="0.50"/>
<circle cx="832.8" cy="465.7" r="2.4" opacity="0.55"/>
<circle cx="819.3" cy="371.9" r="1.4" opacity="0.37"/>
<circle cx="636.0" cy="312.1" r="1.4" opacity="0.57"/>
<circle cx="803.8" cy="382.9" r="1.8" opacity="0.64"/>
<circle cx="697.3" cy="367.5" r="2.3" opacity="0.53"/>
<circle cx="663.8" cy="458.9" r="2.2" opacity="0.52"/>
<circle cx="715.2" cy="381.2" r="2.0" opacity="0.45"/>
<circle cx="615.7" cy="313.9" r="2.3" opacity="0.41"/>
<circle cx="739.2" cy="311.0" r="1.5" opacity="0.43"/>
<circle cx="713.6" cy="62.1" r="1.0" opacity="0.29"/>
<circle cx="612.3" cy="142.6" r="1.1" opacity="0.26"/>
<circle cx="732.6" cy="121.9" r="1.8" opacity="0.27"/>
<circle cx="713.4" cy="119.2" r="1.0" opacity="0.59"/>
<circle cx="634.1" cy="43.6" r="1.6" opacity="0.31"/>
<circle cx="807.7" cy="106.6" r="1.1" opacity="0.27"/>
<circle cx="852.9" cy="88.8" r="1.9" opacity="0.41"/>
<circle cx="941.2" cy="95.1" r="1.3" opacity="0.34"/>
<circle cx="890.3" cy="177.3" r="1.4" opacity="0.28"/>
<circle cx="833.4" cy="262.3" r="1.7" opacity="0.25"/>
<circle cx="553.0" cy="42.6" r="1.2" opacity="0.26"/>
<circle cx="563.2" cy="183.6" r="2.1" opacity="0.32"/>
<circle cx="958.8" cy="139.2" r="2.0" opacity="0.57"/>
<circle cx="944.2" cy="28.6" r="1.4" opacity="0.46"/>
<circle cx="947.0" cy="41.9" r="1.4" opacity="0.55"/>
<circle cx="589.3" cy="117.5" r="1.4" opacity="0.49"/>
<circle cx="939.3" cy="63.7" r="1.9" opacity="0.51"/>
<circle cx="899.3" cy="158.3" r="2.1" opacity="0.38"/>
<circle cx="718.3" cy="77.4" r="1.9" opacity="0.42"/>
<circle cx="655.9" cy="62.4" r="1.9" opacity="0.46"/>
<circle cx="845.6" cy="116.7" r="1.6" opacity="0.30"/>
<circle cx="845.6" cy="25.7" r="1.6" opacity="0.52"/>
<circle cx="831.3" cy="44.3" r="1.3" opacity="0.55"/>
<circle cx="816.2" cy="239.6" r="2.0" opacity="0.41"/>
<circle cx="925.7" cy="203.2" r="1.4" opacity="0.38"/>
<circle cx="571.0" cy="119.8" r="2.1" opacity="0.29"/>
<circle cx="784.6" cy="47.5" r="1.1" opacity="0.48"/>
<circle cx="643.5" cy="32.2" r="1.2" opacity="0.48"/>
<circle cx="791.8" cy="22.9" r="1.3" opacity="0.59"/>
<circle cx="634.6" cy="160.6" r="1.5" opacity="0.52"/>
<circle cx="799.9" cy="217.2" r="1.6" opacity="0.32"/>
<circle cx="616.4" cy="39.8" r="2.0" opacity="0.29"/>
<circle cx="550.3" cy="261.6" r="1.2" opacity="0.56"/>
<circle cx="576.9" cy="136.3" r="1.3" opacity="0.54"/>
<circle cx="804.6" cy="180.5" r="1.9" opacity="0.56"/>
<circle cx="688.8" cy="170.8" r="1.5" opacity="0.29"/>
<circle cx="899.2" cy="168.6" r="2.0" opacity="0.32"/>
<circle cx="771.8" cy="136.0" r="1.9" opacity="0.28"/>
<circle cx="688.8" cy="141.1" r="1.1" opacity="0.44"/>
<circle cx="856.2" cy="125.7" r="1.8" opacity="0.46"/>
<circle cx="632.1" cy="107.6" r="2.2" opacity="0.37"/>
<circle cx="725.3" cy="41.0" r="1.3" opacity="0.31"/>
<circle cx="940.3" cy="201.6" r="2.0" opacity="0.60"/>
<circle cx="803.2" cy="252.8" r="1.6" opacity="0.40"/>
<circle cx="947.7" cy="245.8" r="2.1" opacity="0.42"/>
<circle cx="872.6" cy="121.7" r="2.2" opacity="0.57"/>
<circle cx="665.6" cy="253.5" r="1.2" opacity="0.28"/>
<circle cx="850.6" cy="93.6" r="1.6" opacity="0.47"/>
<circle cx="557.4" cy="206.3" r="1.3" opacity="0.40"/>
<circle cx="688.3" cy="205.5" r="1.9" opacity="0.35"/>
<circle cx="584.4" cy="94.8" r="1.5" opacity="0.28"/>
<circle cx="605.9" cy="210.7" r="1.8" opacity="0.59"/>
<circle cx="961.2" cy="239.0" r="1.4" opacity="0.31"/>
<circle cx="674.1" cy="135.8" r="1.6" opacity="0.44"/>
<circle cx="694.7" cy="233.2" r="1.3" opacity="0.41"/>
<circle cx="921.3" cy="221.8" r="1.4" opacity="0.33"/>
<circle cx="886.9" cy="22.5" r="1.2" opacity="0.44"/>
<circle cx="770.4" cy="61.4" r="1.1" opacity="0.32"/>
<circle cx="871.1" cy="136.4" r="2.2" opacity="0.52"/>
<circle cx="961.1" cy="28.8" r="1.2" opacity="0.25"/>
<circle cx="725.9" cy="104.6" r="1.1" opacity="0.44"/>
<circle cx="580.3" cy="97.9" r="1.3" opacity="0.53"/>
<circle cx="719.8" cy="85.1" r="1.1" opacity="0.40"/>
<circle cx="809.8" cy="188.8" r="2.1" opacity="0.53"/>
<circle cx="646.4" cy="53.9" r="1.9" opacity="0.53"/>
<circle cx="758.8" cy="227.7" r="1.7" opacity="0.35"/>
<circle cx="612.6" cy="24.3" r="1.8" opacity="0.56"/>
<circle cx="929.6" cy="136.9" r="1.8" opacity="0.58"/>
<circle cx="890.0" cy="170.7" r="1.5" opacity="0.43"/>
<circle cx="613.4" cy="65.7" r="1.8" opacity="0.60"/>
<circle cx="775.2" cy="122.0" r="1.4" opacity="0.41"/>
<circle cx="885.3" cy="133.1" r="2.2" opacity="0.30"/>
<circle cx="675.4" cy="150.5" r="1.5" opacity="0.55"/>
<circle cx="895.9" cy="252.8" r="1.7" opacity="0.26"/>
<circle cx="787.0" cy="157.4" r="1.6" opacity="0.35"/>
<circle cx="845.0" cy="247.9" r="1.1" opacity="0.48"/>
<circle cx="699.7" cy="148.7" r="2.1" opacity="0.59"/>
<circle cx="816.7" cy="68.8" r="2.1" opacity="0.31"/>
<circle cx="704.8" cy="227.0" r="1.4" opacity="0.34"/>
<circle cx="948.5" cy="256.0" r="1.4" opacity="0.39"/>
</g>
</g>
</g>
<use href="#atomsB" fill="url(#shB)" filter="url(#blB1)"/>
</g>
<defs><linearGradient id="cbar" x1="0" y1="0" x2="0" y2="1"><stop offset="0" stop-color="#8c4a1c"/><stop offset="0.2" stop-color="#a96e45"/><stop offset="0.35" stop-color="#d4b7a2"/><stop offset="0.5" stop-color="#ffffff"/><stop offset="0.65" stop-color="#c6c6fb"/><stop offset="0.82" stop-color="#6464f6"/><stop offset="1" stop-color="#0202f0"/></linearGradient></defs>
<rect x="473.2" y="352" width="21.2" height="146" fill="url(#cbar)"/>
<g font-family="Liberation Sans, Arial, sans-serif" font-size="14.3" fill="#333" text-anchor="end">
<text x="459" y="349.9">3.00</text>
<text x="459" y="374.3">2.00</text>
<text x="459" y="398.8">1.00</text>
<text x="459" y="423.2">0.00</text>
<text x="459" y="447.7">-1.00</text>
<text x="459" y="472.1">-2.00</text>
<text x="459" y="496.6">-3.00</text>
</g>
<text x="350.5" y="319.6" font-family="Liberation Sans, Arial, sans-serif" font-weight="bold" font-size="22.6" fill="#000" stroke="#000" stroke-width="0.35" textLength="187.8" lengthAdjust="spacingAndGlyphs">Hydrophobicity</text>
<g id="pC">
<g shape-rendering="crispEdges">
<rect x="1058.30" y="36.40" width="13.22" height="12.92" fill="#ffff00"/>
<rect x="1071.02" y="36.40" width="127.75" height="12.92" fill="#f20000"/>
<rect x="1198.27" y="36.40" width="38.67" height="12.92" fill="#ffff00"/>
<rect x="1236.45" y="36.40" width="25.95" height="12.92" fill="#fdfcb8"/>
<rect x="1325.52" y="36.40" width="64.12" height="12.92" fill="#ece9ba"/>
<rect x="1452.77" y="36.40" width="51.40" height="12.92" fill="#fdfcb8"/>
<rect x="1503.67" y="36.40" width="13.22" height="12.92" fill="#ffff00"/>
<rect x="1058.30" y="48.81" width="13.22" height="12.92" fill="#ffff00"/>
<rect x="1071.02" y="48.81" width="140.47" height="12.92" fill="#f20000"/>
<rect x="1211.00" y="48.81" width="38.67" height="12.92" fill="#ffff00"/>
<rect x="1249.17" y="48.81" width="25.95" height="12.92" fill="#fdfcb8"/>
<rect x="1452.77" y="48.81" width="38.67" height="12.92" fill="#fdfcb8"/>
<rect x="1490.95" y="48.81" width="25.95" height="12.92" fill="#ffff00"/>
<rect x="1058.30" y="61.23" width="13.22" height="12.92" fill="#ffff00"/>
<rect x="1071.02" y="61.23" width="140.47" height="12.92" fill="#f20000"/>
<rect x="1211.00" y="61.23" width="38.67" height="12.92" fill="#ffff00"/>
<rect x="1249.17" y="61.23" width="51.40" height="12.92" fill="#fdfcb8"/>
<rect x="1452.77" y="61.23" width="25.95" height="12.92" fill="#fdfcb8"/>
<rect x="1478.22" y="61.23" width="38.67" height="12.92" fill="#ffff00"/>
<rect x="1058.30" y="73.65" width="25.95" height="12.92" fill="#ffff00"/>
<rect x="1083.75" y="73.65" width="140.47" height="12.92" fill="#f20000"/>
<rect x="1223.72" y="73.65" width="51.40" height="12.92" fill="#ffff00"/>
<rect x="1274.62" y="73.65" width="25.95" height="12.92" fill="#fdfcb8"/>
<rect x="1452.77" y="73.65" width="38.67" height="12.92" fill="#fdfcb8"/>
<rect x="1490.95" y="73.65" width="25.95" height="12.92" fill="#ffff00"/>
<rect x="1058.30" y="86.06" width="25.95" height="12.92" fill="#ffff00"/>
<rect x="1083.75" y="86.06" width="153.20" height="12.92" fill="#f20000"/>
<rect x="1236.45" y="86.06" width="25.95" height="12.92" fill="#ffff00"/>
<rect x="1261.90" y="86.06" width="38.67" height="12.92" fill="#fdfcb8"/>
<rect x="1452.77" y="86.06" width="51.40" height="12.92" fill="#fdfcb8"/>
<rect x="1503.67" y="86.06" width="13.22" height="12.92" fill="#ffff00"/>
<rect x="1058.30" y="98.47" width="25.95" height="12.92" fill="#ffff00"/>
<rect x="1083.75" y="98.47" width="140.47" height="12.92" fill="#f20000"/>
<rect x="1223.72" y="98.47" width="38.67" height="12.92" fill="#ffff00"/>
<rect x="1261.90" y="98.47" width="38.67" height="12.92" fill="#fdfcb8"/>
<rect x="1465.50" y="98.47" width="38.67" height="12.92" fill="#fdfcb8"/>
<rect x="1503.67" y="98.47" width="13.22" height="12.92" fill="#ffff00"/>
<rect x="1058.30" y="110.89" width="38.67" height="12.92" fill="#ffff00"/>
<rect x="1096.47" y="110.89" width="115.02" height="12.92" fill="#f20000"/>
<rect x="1211.00" y="110.89" width="51.40" height="12.92" fill="#ffff00"/>
<rect x="1261.90" y="110.89" width="38.67" height="12.92" fill="#fdfcb8"/>
<rect x="1338.25" y="110.89" width="76.85" height="12.92" fill="#ece9ba"/>
<rect x="1478.22" y="110.89" width="25.95" height="12.92" fill="#fdfcb8"/>
<rect x="1503.67" y="110.89" width="13.22" height="12.92" fill="#ffff00"/>
<rect x="1058.30" y="123.31" width="51.40" height="12.92" fill="#ffff00"/>
<rect x="1109.20" y="123.31" width="89.58" height="12.92" fill="#f20000"/>
<rect x="1198.27" y="123.31" width="76.85" height="12.92" fill="#ffff00"/>
<rect x="1274.62" y="123.31" width="25.95" height="12.92" fill="#fdfcb8"/>
<rect x="1300.08" y="123.31" width="115.02" height="12.92" fill="#ece9ba"/>
<rect x="1478.22" y="123.31" width="25.95" height="12.92" fill="#fdfcb8"/>
<rect x="1503.67" y="123.31" width="13.22" height="12.92" fill="#ffff00"/>
<rect x="1058.30" y="135.72" width="64.12" height="12.92" fill="#ffff00"/>
<rect x="1121.92" y="135.72" width="13.22" height="12.92" fill="#f20000"/>
<rect x="1134.65" y="135.72" width="25.95" height="12.92" fill="#ffff00"/>
<rect x="1160.10" y="135.72" width="13.22" height="12.92" fill="#f20000"/>
<rect x="1172.83" y="135.72" width="102.30" height="12.92" fill="#ffff00"/>
<rect x="1274.62" y="135.72" width="25.95" height="12.92" fill="#fdfcb8"/>
<rect x="1300.08" y="135.72" width="64.12" height="12.92" fill="#ece9ba"/>
<rect x="1363.70" y="135.72" width="25.95" height="12.92" fill="#ffff00"/>
<rect x="1389.15" y="135.72" width="25.95" height="12.92" fill="#ece9ba"/>
<rect x="1478.22" y="135.72" width="25.95" height="12.92" fill="#fdfcb8"/>
<rect x="1503.67" y="135.72" width="13.22" height="12.92" fill="#ffff00"/>
<rect x="1058.30" y="148.14" width="178.65" height="12.92" fill="#ffff00"/>
<rect x="1236.45" y="148.14" width="64.12" height="12.92" fill="#fdfcb8"/>
<rect x="1300.08" y="148.14" width="25.95" height="12.92" fill="#ece9ba"/>
<rect x="1325.52" y="148.14" width="51.40" height="12.92" fill="#ffff00"/>
<rect x="1376.42" y="148.14" width="38.67" height="12.92" fill="#ece9ba"/>
<rect x="1478.22" y="148.14" width="38.67" height="12.92" fill="#fdfcb8"/>
<rect x="1058.30" y="160.55" width="153.20" height="12.92" fill="#ffff00"/>
<rect x="1211.00" y="160.55" width="89.58" height="12.92" fill="#fdfcb8"/>
<rect x="1300.08" y="160.55" width="25.95" height="12.92" fill="#ece9ba"/>
<rect x="1325.52" y="160.55" width="51.40" height="12.92" fill="#ffff00"/>
<rect x="1376.42" y="160.55" width="38.67" height="12.92" fill="#ece9ba"/>
<rect x="1478.22" y="160.55" width="38.67" height="12.92" fill="#fdfcb8"/>
<rect x="1058.30" y="172.97" width="13.22" height="12.92" fill="#fdfcb8"/>
<rect x="1071.02" y="172.97" width="153.20" height="12.92" fill="#ffff00"/>
<rect x="1223.72" y="172.97" width="25.95" height="12.92" fill="#fdfcb8"/>
<rect x="1300.08" y="172.97" width="38.67" height="12.92" fill="#ece9ba"/>
<rect x="1338.25" y="172.97" width="38.67" height="12.92" fill="#ffff00"/>
<rect x="1376.42" y="172.97" width="51.40" height="12.92" fill="#ece9ba"/>
<rect x="1478.22" y="172.97" width="38.67" height="12.92" fill="#fdfcb8"/>
<rect x="1058.30" y="185.38" width="25.95" height="12.92" fill="#fdfcb8"/>
<rect x="1083.75" y="185.38" width="140.47" height="12.92" fill="#ffff00"/>
<rect x="1223.72" y="185.38" width="25.95" height="12.92" fill="#fdfcb8"/>
<rect x="1300.08" y="185.38" width="25.95" height="12.92" fill="#ece9ba"/>
<rect x="1325.52" y="185.38" width="76.85" height="12.92" fill="#ffff00"/>
<rect x="1401.88" y="185.38" width="25.95" height="12.92" fill="#ece9ba"/>
<rect x="1478.22" y="185.38" width="38.67" height="12.92" fill="#fdfcb8"/>
<rect x="1058.30" y="197.80" width="25.95" height="12.92" fill="#ece9ba"/>
<rect x="1083.75" y="197.80" width="127.75" height="12.92" fill="#eeee00"/>
<rect x="1211.00" y="197.80" width="38.67" height="12.92" fill="#ece9ba"/>
<rect x="1300.08" y="197.80" width="25.95" height="12.92" fill="#ece9ba"/>
<rect x="1325.52" y="197.80" width="25.95" height="12.92" fill="#ffff00"/>
<rect x="1350.97" y="197.80" width="13.22" height="12.92" fill="#f20000"/>
<rect x="1363.70" y="197.80" width="25.95" height="12.92" fill="#ffff00"/>
<rect x="1389.15" y="197.80" width="38.67" height="12.92" fill="#ece9ba"/>
<rect x="1478.22" y="197.80" width="38.67" height="12.92" fill="#fdfcb8"/>
<rect x="1058.30" y="210.21" width="13.22" height="12.92" fill="#ece9ba"/>
<rect x="1071.02" y="210.21" width="140.47" height="12.92" fill="#eeee00"/>
<rect x="1211.00" y="210.21" width="38.67" height="12.92" fill="#ece9ba"/>
<rect x="1300.08" y="210.21" width="38.67" height="12.92" fill="#ece9ba"/>
<rect x="1338.25" y="210.21" width="13.22" height="12.92" fill="#ffff00"/>
<rect x="1350.97" y="210.21" width="25.95" height="12.92" fill="#f20000"/>
<rect x="1376.42" y="210.21" width="13.22" height="12.92" fill="#ffff00"/>
<rect x="1389.15" y="210.21" width="38.67" height="12.92" fill="#ece9ba"/>
<rect x="1478.22" y="210.21" width="38.67" height="12.92" fill="#fdfcb8"/>
<rect x="1058.30" y="222.63" width="13.22" height="12.92" fill="#ece9ba"/>
<rect x="1071.02" y="222.63" width="76.85" height="12.92" fill="#eeee00"/>
<rect x="1147.38" y="222.63" width="13.22" height="12.92" fill="#f20000"/>
<rect x="1160.10" y="222.63" width="64.12" height="12.92" fill="#eeee00"/>
<rect x="1223.72" y="222.63" width="38.67" height="12.92" fill="#ece9ba"/>
<rect x="1300.08" y="222.63" width="38.67" height="12.92" fill="#ece9ba"/>
<rect x="1338.25" y="222.63" width="64.12" height="12.92" fill="#ffff00"/>
<rect x="1401.88" y="222.63" width="25.95" height="12.92" fill="#ece9ba"/>
<rect x="1478.22" y="222.63" width="38.67" height="12.92" fill="#fdfcb8"/>
<rect x="1058.30" y="235.04" width="13.22" height="12.92" fill="#ece9ba"/>
<rect x="1071.02" y="235.04" width="64.12" height="12.92" fill="#eeee00"/>
<rect x="1134.65" y="235.04" width="51.40" height="12.92" fill="#f20000"/>
<rect x="1185.55" y="235.04" width="51.40" height="12.92" fill="#eeee00"/>
<rect x="1236.45" y="235.04" width="38.67" height="12.92" fill="#ece9ba"/>
<rect x="1312.80" y="235.04" width="38.67" height="12.92" fill="#ece9ba"/>
<rect x="1350.97" y="235.04" width="38.67" height="12.92" fill="#ffff00"/>
<rect x="1389.15" y="235.04" width="38.67" height="12.92" fill="#ece9ba"/>
<rect x="1478.22" y="235.04" width="38.67" height="12.92" fill="#fdfcb8"/>
<rect x="1058.30" y="247.46" width="13.22" height="12.92" fill="#ece9ba"/>
<rect x="1071.02" y="247.46" width="64.12" height="12.92" fill="#eeee00"/>
<rect x="1134.65" y="247.46" width="64.12" height="12.92" fill="#f20000"/>
<rect x="1198.27" y="247.46" width="38.67" height="12.92" fill="#eeee00"/>
<rect x="1236.45" y="247.46" width="38.67" height="12.92" fill="#ece9ba"/>
<rect x="1312.80" y="247.46" width="51.40" height="12.92" fill="#ece9ba"/>
<rect x="1363.70" y="247.46" width="38.67" height="12.92" fill="#ffff00"/>
<rect x="1401.88" y="247.46" width="25.95" height="12.92" fill="#ece9ba"/>
<rect x="1478.22" y="247.46" width="38.67" height="12.92" fill="#fdfcb8"/>
<rect x="1058.30" y="259.87" width="13.22" height="12.92" fill="#ece9ba"/>
<rect x="1071.02" y="259.87" width="51.40" height="12.92" fill="#eeee00"/>
<rect x="1121.92" y="259.87" width="89.58" height="12.92" fill="#f20000"/>
<rect x="1211.00" y="259.87" width="38.67" height="12.92" fill="#eeee00"/>
<rect x="1249.17" y="259.87" width="38.67" height="12.92" fill="#ece9ba"/>
<rect x="1312.80" y="259.87" width="38.67" height="12.92" fill="#ece9ba"/>
<rect x="1350.97" y="259.87" width="13.22" height="12.92" fill="#ffff00"/>
<rect x="1363.70" y="259.87" width="13.22" height="12.92" fill="#ece9ba"/>
<rect x="1376.42" y="259.87" width="25.95" height="12.92" fill="#ffff00"/>
<rect x="1401.88" y="259.87" width="25.95" height="12.92" fill="#ece9ba"/>
<rect x="1478.22" y="259.87" width="38.67" height="12.92" fill="#fdfcb8"/>
<rect x="1058.30" y="272.29" width="13.22" height="12.92" fill="#ece9ba"/>
<rect x="1071.02" y="272.29" width="64.12" height="12.92" fill="#eeee00"/>
<rect x="1134.65" y="272.29" width="89.58" height="12.92" fill="#f20000"/>
<rect x="1223.72" y="272.29" width="25.95" height="12.92" fill="#eeee00"/>
<rect x="1249.17" y="272.29" width="51.40" height="12.92" fill="#ece9ba"/>
<rect x="1312.80" y="272.29" width="115.02" height="12.92" fill="#ece9ba"/>
<rect x="1478.22" y="272.29" width="38.67" height="12.92" fill="#fdfcb8"/>
<rect x="1058.30" y="284.70" width="25.95" height="12.92" fill="#ece9ba"/>
<rect x="1083.75" y="284.70" width="51.40" height="12.92" fill="#eeee00"/>
<rect x="1134.65" y="284.70" width="102.30" height="12.92" fill="#f20000"/>
<rect x="1236.45" y="284.70" width="25.95" height="12.92" fill="#eeee00"/>
<rect x="1261.90" y="284.70" width="38.67" height="12.92" fill="#ece9ba"/>
<rect x="1312.80" y="284.70" width="115.02" height="12.92" fill="#ece9ba"/>
<rect x="1478.22" y="284.70" width="38.67" height="12.92" fill="#fdfcb8"/>
<rect x="1058.30" y="297.12" width="25.95" height="12.92" fill="#ece9ba"/>
<rect x="1083.75" y="297.12" width="64.12" height="12.92" fill="#eeee00"/>
<rect x="1147.38" y="297.12" width="89.58" height="12.92" fill="#f20000"/>
<rect x="1236.45" y="297.12" width="38.67" height="12.92" fill="#eeee00"/>
<rect x="1274.62" y="297.12" width="38.67" height="12.92" fill="#ece9ba"/>
<rect x="1478.22" y="297.12" width="38.67" height="12.92" fill="#fdfcb8"/>
<rect x="1058.30" y="309.53" width="38.67" height="12.92" fill="#ece9ba"/>
<rect x="1096.47" y="309.53" width="64.12" height="12.92" fill="#eeee00"/>
<rect x="1160.10" y="309.53" width="89.58" height="12.92" fill="#f20000"/>
<rect x="1249.17" y="309.53" width="25.95" height="12.92" fill="#eeee00"/>
<rect x="1274.62" y="309.53" width="38.67" height="12.92" fill="#ece9ba"/>
<rect x="1478.22" y="309.53" width="38.67" height="12.92" fill="#fdfcb8"/>
<rect x="1058.30" y="321.94" width="13.22" height="12.92" fill="#ece9ba"/>
<rect x="1071.02" y="321.94" width="102.30" height="12.92" fill="#eeee00"/>
<rect x="1172.83" y="321.94" width="76.85" height="12.92" fill="#f20000"/>
<rect x="1249.17" y="321.94" width="38.67" height="12.92" fill="#eeee00"/>
<rect x="1287.35" y="321.94" width="38.67" height="12.92" fill="#ece9ba"/>
<rect x="1478.22" y="321.94" width="38.67" height="12.92" fill="#fdfcb8"/>
<rect x="1058.30" y="334.36" width="25.95" height="12.92" fill="#eeee00"/>
<rect x="1083.75" y="334.36" width="13.22" height="12.92" fill="#ece9ba"/>
<rect x="1096.47" y="334.36" width="102.30" height="12.92" fill="#eeee00"/>
<rect x="1198.27" y="334.36" width="51.40" height="12.92" fill="#f20000"/>
<rect x="1249.17" y="334.36" width="38.67" height="12.92" fill="#eeee00"/>
<rect x="1287.35" y="334.36" width="38.67" height="12.92" fill="#ece9ba"/>
<rect x="1478.22" y="334.36" width="38.67" height="12.92" fill="#fdfcb8"/>
<rect x="1058.30" y="346.77" width="38.67" height="12.92" fill="#ece9ba"/>
<rect x="1096.47" y="346.77" width="204.10" height="12.92" fill="#eeee00"/>
<rect x="1300.08" y="346.77" width="25.95" height="12.92" fill="#ece9ba"/>
<rect x="1478.22" y="346.77" width="38.67" height="12.92" fill="#fdfcb8"/>
<rect x="1058.30" y="359.19" width="64.12" height="12.92" fill="#ece9ba"/>
<rect x="1121.92" y="359.19" width="165.92" height="12.92" fill="#eeee00"/>
<rect x="1287.35" y="359.19" width="38.67" height="12.92" fill="#ece9ba"/>
<rect x="1478.22" y="359.19" width="38.67" height="12.92" fill="#fdfcb8"/>
<rect x="1071.02" y="371.61" width="51.40" height="12.92" fill="#ece9ba"/>
<rect x="1121.92" y="371.61" width="127.75" height="12.92" fill="#eeee00"/>
<rect x="1249.17" y="371.61" width="76.85" height="12.92" fill="#ece9ba"/>
<rect x="1096.47" y="384.02" width="102.30" height="12.92" fill="#ece9ba"/>
<rect x="1198.27" y="384.02" width="13.22" height="12.92" fill="#eeee00"/>
<rect x="1211.00" y="384.02" width="102.30" height="12.92" fill="#ece9ba"/>
<rect x="1096.47" y="396.44" width="51.40" height="12.92" fill="#fdfcb8"/>
<rect x="1147.38" y="396.44" width="25.95" height="12.92" fill="#ffff00"/>
<rect x="1172.83" y="396.44" width="102.30" height="12.92" fill="#fdfcb8"/>
<rect x="1058.30" y="408.85" width="64.12" height="12.92" fill="#fdfcb8"/>
<rect x="1121.92" y="408.85" width="25.95" height="12.92" fill="#ffff00"/>
<rect x="1147.38" y="408.85" width="89.58" height="12.92" fill="#fdfcb8"/>
<rect x="1325.52" y="408.85" width="64.12" height="12.92" fill="#ece9ba"/>
<rect x="1058.30" y="421.26" width="76.85" height="12.92" fill="#fdfcb8"/>
<rect x="1134.65" y="421.26" width="51.40" height="12.92" fill="#ffff00"/>
<rect x="1185.55" y="421.26" width="51.40" height="12.92" fill="#fdfcb8"/>
<rect x="1325.52" y="421.26" width="64.12" height="12.92" fill="#ece9ba"/>
<rect x="1058.30" y="433.68" width="13.22" height="12.92" fill="#fdfcb8"/>
<rect x="1071.02" y="433.68" width="38.67" height="12.92" fill="#ffff00"/>
<rect x="1109.20" y="433.68" width="13.22" height="12.92" fill="#fdfcb8"/>
<rect x="1121.92" y="433.68" width="64.12" height="12.92" fill="#ffff00"/>
<rect x="1185.55" y="433.68" width="64.12" height="12.92" fill="#fdfcb8"/>
<rect x="1325.52" y="433.68" width="25.95" height="12.92" fill="#ece9ba"/>
<rect x="1350.97" y="433.68" width="13.22" height="12.92" fill="#ffff00"/>
<rect x="1363.70" y="433.68" width="38.67" height="12.92" fill="#ece9ba"/>
<rect x="1058.30" y="446.10" width="13.22" height="12.92" fill="#fdfcb8"/>
<rect x="1071.02" y="446.10" width="127.75" height="12.92" fill="#ffff00"/>
<rect x="1198.27" y="446.10" width="51.40" height="12.92" fill="#fdfcb8"/>
<rect x="1325.52" y="446.10" width="25.95" height="12.92" fill="#ece9ba"/>
<rect x="1350.97" y="446.10" width="13.22" height="12.92" fill="#ffff00"/>
<rect x="1363.70" y="446.10" width="38.67" height="12.92" fill="#ece9ba"/>
<rect x="1478.22" y="446.10" width="38.67" height="12.92" fill="#fdfcb8"/>
<rect x="1058.30" y="458.51" width="13.22" height="12.92" fill="#fdfcb8"/>
<rect x="1071.02" y="458.51" width="153.20" height="12.92" fill="#ffff00"/>
<rect x="1223.72" y="458.51" width="25.95" height="12.92" fill="#fdfcb8"/>
<rect x="1325.52" y="458.51" width="25.95" height="12.92" fill="#ece9ba"/>
<rect x="1350.97" y="458.51" width="25.95" height="12.92" fill="#ffff00"/>
<rect x="1376.42" y="458.51" width="25.95" height="12.92" fill="#ece9ba"/>
<rect x="1478.22" y="458.51" width="38.67" height="12.92" fill="#fdfcb8"/>
<rect x="1058.30" y="470.93" width="165.92" height="12.92" fill="#ffff00"/>
<rect x="1223.72" y="470.93" width="25.95" height="12.92" fill="#fdfcb8"/>
<rect x="1325.52" y="470.93" width="76.85" height="12.92" fill="#ece9ba"/>
<rect x="1478.22" y="470.93" width="25.95" height="12.92" fill="#fdfcb8"/>
<rect x="1503.67" y="470.93" width="13.22" height="12.92" fill="#ffff00"/>
</g>
<path d="M1236.45 36.40V48.81M1261.90 36.40V48.81M1389.15 36.40V48.81M1249.17 48.81V61.23M1274.62 48.81V61.23M1249.17 61.23V73.65M1300.08 61.23V73.65M1274.62 73.65V86.06M1300.08 73.65V86.06M1261.90 86.06V98.47M1300.08 86.06V98.47M1261.90 98.47V110.89M1300.08 98.47V110.89M1261.90 110.89V123.31M1300.08 110.89V123.31M1414.60 110.89V123.31M1274.62 123.31V135.72M1414.60 123.31V135.72M1274.62 135.72V148.14M1389.15 135.72V148.14M1414.60 135.72V148.14M1236.45 148.14V160.55M1376.42 148.14V160.55M1414.60 148.14V160.55M1211.00 160.55V172.97M1376.42 160.55V172.97M1414.60 160.55V172.97M1223.72 172.97V185.38M1249.17 172.97V185.38M1376.42 172.97V185.38M1427.32 172.97V185.38M1223.72 185.38V197.80M1249.17 185.38V197.80M1401.88 185.38V197.80M1427.32 185.38V197.80M1211.00 197.80V210.21M1249.17 197.80V210.21M1389.15 197.80V210.21M1427.32 197.80V210.21M1211.00 210.21V222.63M1249.17 210.21V222.63M1389.15 210.21V222.63M1427.32 210.21V222.63M1223.72 222.63V235.04M1261.90 222.63V235.04M1401.88 222.63V235.04M1427.32 222.63V235.04M1236.45 235.04V247.46M1274.62 235.04V247.46M1389.15 235.04V247.46M1427.32 235.04V247.46M1236.45 247.46V259.87M1274.62 247.46V259.87M1401.88 247.46V259.87M1427.32 247.46V259.87M1249.17 259.87V272.29M1287.35 259.87V272.29M1363.70 259.87V272.29M1401.88 259.87V272.29M1427.32 259.87V272.29M1249.17 272.29V284.70M1300.08 272.29V284.70M1427.32 272.29V284.70M1261.90 284.70V297.12M1300.08 284.70V297.12M1427.32 284.70V297.12M1274.62 297.12V309.53M1312.80 297.12V309.53M1274.62 309.53V321.94M1312.80 309.53V321.94M1287.35 321.94V334.36M1325.52 321.94V334.36M1083.75 334.36V346.77M1287.35 334.36V346.77M1325.52 334.36V346.77M1300.08 346.77V359.19M1325.52 346.77V359.19M1287.35 359.19V371.61M1325.52 359.19V371.61M1249.17 371.61V384.02M1325.52 371.61V384.02M1211.00 384.02V396.44M1312.80 384.02V396.44M1172.83 396.44V408.85M1274.62 396.44V408.85M1147.38 408.85V421.26M1236.45 408.85V421.26M1389.15 408.85V421.26M1185.55 421.26V433.68M1236.45 421.26V433.68M1389.15 421.26V433.68M1109.20 433.68V446.10M1185.55 433.68V446.10M1249.17 433.68V446.10M1363.70 433.68V446.10M1401.88 433.68V446.10M1198.27 446.10V458.51M1249.17 446.10V458.51M1363.70 446.10V458.51M1401.88 446.10V458.51M1223.72 458.51V470.93M1249.17 458.51V470.93M1376.42 458.51V470.93M1401.88 458.51V470.93M1223.72 470.93V483.34M1249.17 470.93V483.34M1401.88 470.93V483.34M1325.52 48.81H1338.25M1338.25 48.81H1350.97M1350.97 48.81H1363.70M1363.70 48.81H1376.42M1376.42 48.81H1389.15M1478.22 73.65H1490.95M1261.90 86.06H1274.62M1490.95 86.06H1503.67M1452.77 98.47H1465.50M1465.50 110.89H1478.22M1236.45 148.14H1249.17M1249.17 148.14H1261.90M1261.90 148.14H1274.62M1376.42 148.14H1389.15M1503.67 148.14H1516.40M1211.00 160.55H1223.72M1223.72 160.55H1236.45M1058.30 172.97H1071.02M1249.17 172.97H1261.90M1261.90 172.97H1274.62M1274.62 172.97H1287.35M1287.35 172.97H1300.08M1325.52 172.97H1338.25M1071.02 185.38H1083.75M1211.00 197.80H1223.72M1389.15 197.80H1401.88M1325.52 210.21H1338.25M1300.08 235.04H1312.80M1338.25 235.04H1350.97M1389.15 235.04H1401.88M1350.97 247.46H1363.70M1363.70 259.87H1376.42M1350.97 272.29H1363.70M1376.42 272.29H1389.15M1389.15 272.29H1401.88M1071.02 284.70H1083.75M1312.80 297.12H1325.52M1325.52 297.12H1338.25M1338.25 297.12H1350.97M1350.97 297.12H1363.70M1363.70 297.12H1376.42M1376.42 297.12H1389.15M1389.15 297.12H1401.88M1401.88 297.12H1414.60M1414.60 297.12H1427.32M1083.75 309.53H1096.47M1083.75 334.36H1096.47M1058.30 346.77H1071.02M1071.02 346.77H1083.75M1096.47 359.19H1109.20M1109.20 359.19H1121.92M1287.35 359.19H1300.08M1058.30 371.61H1071.02M1249.17 371.61H1261.90M1261.90 371.61H1274.62M1274.62 371.61H1287.35M1478.22 371.61H1490.95M1490.95 371.61H1503.67M1503.67 371.61H1516.40M1071.02 384.02H1083.75M1083.75 384.02H1096.47M1121.92 384.02H1134.65M1134.65 384.02H1147.38M1147.38 384.02H1160.10M1160.10 384.02H1172.83M1172.83 384.02H1185.55M1185.55 384.02H1198.27M1211.00 384.02H1223.72M1223.72 384.02H1236.45M1236.45 384.02H1249.17M1312.80 384.02H1325.52M1198.27 396.44H1211.00M1274.62 396.44H1287.35M1287.35 396.44H1300.08M1300.08 396.44H1312.80M1147.38 408.85H1160.10M1160.10 408.85H1172.83M1236.45 408.85H1249.17M1249.17 408.85H1261.90M1261.90 408.85H1274.62M1121.92 421.26H1134.65M1350.97 470.93H1363.70M1363.70 470.93H1376.42" stroke="#66633f" stroke-width="1.4" fill="none"/>
<line x1="1287.35" y1="36.4" x2="1287.35" y2="483.34" stroke="#9a9a9a" stroke-width="0.8" opacity="0.8"/>
<line x1="1058.3" y1="259.87" x2="1516.40" y2="259.87" stroke="#9a9a9a" stroke-width="0.8" opacity="0.8"/>
<rect x="1058.3" y="36.4" width="458.10" height="446.94" fill="none" stroke="#6f6f6f" stroke-width="1.3"/>
<g stroke="#666" stroke-width="1">
<line x1="1058.30" y1="483.34" x2="1058.30" y2="490.34"/>
<line x1="1115.56" y1="483.34" x2="1115.56" y2="490.34"/>
<line x1="1049.30" y1="427.47" x2="1058.3" y2="427.47"/>
<line x1="1172.83" y1="483.34" x2="1172.83" y2="490.34"/>
<line x1="1049.30" y1="371.61" x2="1058.3" y2="371.61"/>
<line x1="1230.09" y1="483.34" x2="1230.09" y2="490.34"/>
<line x1="1049.30" y1="315.74" x2="1058.3" y2="315.74"/>
<line x1="1287.35" y1="483.34" x2="1287.35" y2="490.34"/>
<line x1="1049.30" y1="259.87" x2="1058.3" y2="259.87"/>
<line x1="1344.61" y1="483.34" x2="1344.61" y2="490.34"/>
<line x1="1049.30" y1="204.00" x2="1058.3" y2="204.00"/>
<line x1="1401.88" y1="483.34" x2="1401.88" y2="490.34"/>
<line x1="1049.30" y1="148.13" x2="1058.3" y2="148.13"/>
<line x1="1459.14" y1="483.34" x2="1459.14" y2="490.34"/>
<line x1="1049.30" y1="92.27" x2="1058.3" y2="92.27"/>
<line x1="1516.40" y1="483.34" x2="1516.40" y2="490.34"/>
<line x1="1049.30" y1="36.40" x2="1058.3" y2="36.40"/>
</g>
<g font-family="Liberation Serif, Times New Roman, serif" font-size="16" fill="#222">
<text x="1061.8" y="502.2" text-anchor="middle" dx="-8.2">—180</text>
<text x="1119.1" y="502.2" text-anchor="middle" dx="-8.2">—135</text>
<text x="1176.3" y="502.2" text-anchor="middle" dx="-8.2">—90</text>
<text x="1233.6" y="502.2" text-anchor="middle" dx="-8.2">—45</text>
<text x="1290.8" y="502.2" text-anchor="middle" dx="0">0</text>
<text x="1348.1" y="502.2" text-anchor="middle" dx="0">45</text>
<text x="1405.4" y="502.2" text-anchor="middle" dx="0">90</text>
<text x="1462.6" y="502.2" text-anchor="middle" dx="0">135</text>
<text x="1519.9" y="502.2" text-anchor="middle" dx="0">180</text>
<text x="1048" y="433.1" text-anchor="end">—135</text>
<text x="1048" y="377.2" text-anchor="end">—90</text>
<text x="1048" y="321.3" text-anchor="end">—45</text>
<text x="1048" y="265.5" text-anchor="end">0</text>
<text x="1048" y="209.6" text-anchor="end">45</text>
<text x="1048" y="153.7" text-anchor="end">90</text>
<text x="1048" y="97.9" text-anchor="end">135</text>
<text x="1048" y="42.0" text-anchor="end">180</text>
</g>
<text x="1242.4" y="523" font-family="Liberation Serif, Times New Roman, serif" font-size="16.5" fill="#222">Phi (degrees)</text>
<text transform="translate(1009.6,259.2) rotate(-90)" text-anchor="middle" font-family="Liberation Serif, Times New Roman, serif" font-size="16.5" fill="#222">Psi (degrees)</text>
<g font-family="Liberation Serif, Times New Roman, serif" fill="#4a4418" font-weight="bold">
<text x="1074" y="58" font-size="15" fill="#7a1414">B</text>
<text x="1066" y="103" font-size="12">b</text>
<text x="1140" y="250" font-size="14" fill="#7a1414">A</text>
<text x="1079" y="226" font-size="12">a</text>
<text x="1262" y="100" font-size="9">~b</text>
<text x="1266" y="282" font-size="9">~a</text>
<text x="1314" y="125" font-size="9">~l</text>
<text x="1328" y="162" font-size="10">l</text>
<text x="1352" y="208" font-size="10" fill="#7a1414">L</text>
<text x="1326" y="425" font-size="9">~p</text>
<text x="1354" y="452" font-size="10">p</text>
<text x="1455" y="50" font-size="9">~b</text>
<text x="1499" y="65" font-size="10">b</text>
<text x="1477" y="460" font-size="9">~b</text>
<text x="1061" y="424" font-size="9">~b</text>
<text x="1082" y="449" font-size="10">b</text>
</g>
<g fill="#000">
<rect x="1114.1" y="86.5" width="4.6" height="4.6"/>
<rect x="1131.0" y="97.6" width="4.6" height="4.6"/>
<rect x="1113.3" y="92.0" width="4.6" height="4.6"/>
<rect x="1127.1" y="77.6" width="4.6" height="4.6"/>
<rect x="1114.2" y="107.3" width="4.6" height="4.6"/>
<rect x="1128.8" y="85.3" width="4.6" height="4.6"/>
<rect x="1135.2" y="79.0" width="4.6" height="4.6"/>
<rect x="1122.7" y="94.6" width="4.6" height="4.6"/>
<rect x="1143.1" y="94.8" width="4.6" height="4.6"/>
<rect x="1117.4" y="105.3" width="4.6" height="4.6"/>
<rect x="1124.2" y="89.4" width="4.6" height="4.6"/>
<rect x="1120.8" y="92.0" width="4.6" height="4.6"/>
<rect x="1125.5" y="82.6" width="4.6" height="4.6"/>
<rect x="1131.8" y="88.6" width="4.6" height="4.6"/>
<rect x="1109.8" y="82.5" width="4.6" height="4.6"/>
<rect x="1112.6" y="93.3" width="4.6" height="4.6"/>
<rect x="1112.2" y="91.2" width="4.6" height="4.6"/>
<rect x="1117.5" y="88.6" width="4.6" height="4.6"/>
<rect x="1148.6" y="91.8" width="4.6" height="4.6"/>
<rect x="1129.9" y="107.6" width="4.6" height="4.6"/>
<rect x="1121.2" y="83.0" width="4.6" height="4.6"/>
<rect x="1122.7" y="86.6" width="4.6" height="4.6"/>
<rect x="1124.2" y="103.7" width="4.6" height="4.6"/>
<rect x="1127.7" y="101.3" width="4.6" height="4.6"/>
<rect x="1137.7" y="97.5" width="4.6" height="4.6"/>
<rect x="1128.7" y="91.2" width="4.6" height="4.6"/>
<rect x="1130.7" y="98.7" width="4.6" height="4.6"/>
<rect x="1131.1" y="92.7" width="4.6" height="4.6"/>
<rect x="1133.1" y="83.5" width="4.6" height="4.6"/>
<rect x="1124.5" y="100.9" width="4.6" height="4.6"/>
<rect x="1129.3" y="85.4" width="4.6" height="4.6"/>
<rect x="1136.0" y="95.9" width="4.6" height="4.6"/>
<rect x="1127.7" y="84.9" width="4.6" height="4.6"/>
<rect x="1125.6" y="88.6" width="4.6" height="4.6"/>
<rect x="1124.8" y="98.6" width="4.6" height="4.6"/>
<rect x="1115.7" y="96.1" width="4.6" height="4.6"/>
<rect x="1128.0" y="72.4" width="4.6" height="4.6"/>
<rect x="1130.9" y="78.1" width="4.6" height="4.6"/>
<rect x="1129.4" y="82.5" width="4.6" height="4.6"/>
<rect x="1124.8" y="81.6" width="4.6" height="4.6"/>
<rect x="1137.0" y="95.3" width="4.6" height="4.6"/>
<rect x="1118.1" y="66.9" width="4.6" height="4.6"/>
<rect x="1125.3" y="79.2" width="4.6" height="4.6"/>
<rect x="1130.1" y="105.3" width="4.6" height="4.6"/>
<rect x="1142.0" y="69.2" width="4.6" height="4.6"/>
<rect x="1124.8" y="81.9" width="4.6" height="4.6"/>
<rect x="1124.4" y="102.2" width="4.6" height="4.6"/>
<rect x="1122.6" y="86.6" width="4.6" height="4.6"/>
<rect x="1117.8" y="65.0" width="4.6" height="4.6"/>
<rect x="1111.1" y="62.6" width="4.6" height="4.6"/>
<rect x="1105.9" y="64.7" width="4.6" height="4.6"/>
<rect x="1117.8" y="68.7" width="4.6" height="4.6"/>
<rect x="1099.3" y="71.0" width="4.6" height="4.6"/>
<rect x="1112.2" y="65.7" width="4.6" height="4.6"/>
<rect x="1120.6" y="71.4" width="4.6" height="4.6"/>
<rect x="1110.7" y="65.2" width="4.6" height="4.6"/>
<rect x="1109.7" y="76.4" width="4.6" height="4.6"/>
<rect x="1115.8" y="59.0" width="4.6" height="4.6"/>
<rect x="1201.1" y="102.9" width="4.6" height="4.6"/>
<rect x="1192.1" y="93.0" width="4.6" height="4.6"/>
<rect x="1210.5" y="89.6" width="4.6" height="4.6"/>
<rect x="1195.4" y="81.4" width="4.6" height="4.6"/>
<rect x="1194.2" y="78.8" width="4.6" height="4.6"/>
<rect x="1190.3" y="99.1" width="4.6" height="4.6"/>
<rect x="1199.3" y="82.6" width="4.6" height="4.6"/>
<rect x="1198.9" y="92.3" width="4.6" height="4.6"/>
<rect x="1183.1" y="101.1" width="4.6" height="4.6"/>
<rect x="1190.8" y="99.6" width="4.6" height="4.6"/>
<rect x="1198.4" y="97.8" width="4.6" height="4.6"/>
<rect x="1199.7" y="94.2" width="4.6" height="4.6"/>
<rect x="1192.6" y="93.9" width="4.6" height="4.6"/>
<rect x="1197.4" y="87.5" width="4.6" height="4.6"/>
<rect x="1191.7" y="97.0" width="4.6" height="4.6"/>
<rect x="1186.0" y="81.0" width="4.6" height="4.6"/>
<rect x="1203.9" y="96.5" width="4.6" height="4.6"/>
<rect x="1191.7" y="105.7" width="4.6" height="4.6"/>
<rect x="1195.8" y="93.1" width="4.6" height="4.6"/>
<rect x="1208.6" y="92.8" width="4.6" height="4.6"/>
<rect x="1189.8" y="116.2" width="4.6" height="4.6"/>
<rect x="1203.7" y="93.3" width="4.6" height="4.6"/>
<rect x="1184.5" y="93.4" width="4.6" height="4.6"/>
<rect x="1184.5" y="64.7" width="4.6" height="4.6"/>
<rect x="1201.8" y="90.0" width="4.6" height="4.6"/>
<rect x="1193.6" y="113.5" width="4.6" height="4.6"/>
<rect x="1193.9" y="108.4" width="4.6" height="4.6"/>
<rect x="1198.5" y="113.5" width="4.6" height="4.6"/>
<rect x="1188.9" y="84.3" width="4.6" height="4.6"/>
<rect x="1205.2" y="105.2" width="4.6" height="4.6"/>
<rect x="1144.7" y="95.8" width="4.6" height="4.6"/>
<rect x="1169.0" y="109.7" width="4.6" height="4.6"/>
<rect x="1153.3" y="107.6" width="4.6" height="4.6"/>
<rect x="1148.2" y="107.4" width="4.6" height="4.6"/>
<rect x="1173.1" y="97.2" width="4.6" height="4.6"/>
<rect x="1181.3" y="103.0" width="4.6" height="4.6"/>
<rect x="1159.0" y="109.7" width="4.6" height="4.6"/>
<rect x="1159.1" y="112.2" width="4.6" height="4.6"/>
<rect x="1142.3" y="97.2" width="4.6" height="4.6"/>
<rect x="1175.0" y="96.1" width="4.6" height="4.6"/>
<rect x="1173.9" y="100.5" width="4.6" height="4.6"/>
<rect x="1153.0" y="101.7" width="4.6" height="4.6"/>
<rect x="1156.5" y="110.7" width="4.6" height="4.6"/>
<rect x="1143.1" y="113.4" width="4.6" height="4.6"/>
<rect x="1160.3" y="101.3" width="4.6" height="4.6"/>
<rect x="1155.5" y="91.7" width="4.6" height="4.6"/>
<rect x="1162.2" y="98.0" width="4.6" height="4.6"/>
<rect x="1172.8" y="108.5" width="4.6" height="4.6"/>
<rect x="1140.3" y="96.8" width="4.6" height="4.6"/>
<rect x="1153.3" y="92.6" width="4.6" height="4.6"/>
<rect x="1163.8" y="94.9" width="4.6" height="4.6"/>
<rect x="1168.1" y="117.9" width="4.6" height="4.6"/>
<rect x="1167.7" y="107.4" width="4.6" height="4.6"/>
<rect x="1152.6" y="105.6" width="4.6" height="4.6"/>
<rect x="1168.2" y="95.8" width="4.6" height="4.6"/>
<rect x="1170.6" y="114.7" width="4.6" height="4.6"/>
<rect x="1154.3" y="120.1" width="4.6" height="4.6"/>
<rect x="1159.3" y="97.9" width="4.6" height="4.6"/>
<rect x="1152.6" y="100.6" width="4.6" height="4.6"/>
<rect x="1162.7" y="94.9" width="4.6" height="4.6"/>
<rect x="1152.0" y="108.6" width="4.6" height="4.6"/>
<rect x="1152.6" y="89.3" width="4.6" height="4.6"/>
<rect x="1171.4" y="103.3" width="4.6" height="4.6"/>
<rect x="1162.6" y="101.5" width="4.6" height="4.6"/>
<rect x="1186.8" y="70.2" width="4.6" height="4.6"/>
<rect x="1184.1" y="76.7" width="4.6" height="4.6"/>
<rect x="1182.5" y="58.6" width="4.6" height="4.6"/>
<rect x="1188.5" y="68.5" width="4.6" height="4.6"/>
<rect x="1184.7" y="68.5" width="4.6" height="4.6"/>
<rect x="1187.6" y="72.9" width="4.6" height="4.6"/>
<rect x="1186.8" y="67.4" width="4.6" height="4.6"/>
<rect x="1182.0" y="73.8" width="4.6" height="4.6"/>
<rect x="1180.7" y="75.5" width="4.6" height="4.6"/>
<rect x="1190.3" y="83.5" width="4.6" height="4.6"/>
<rect x="1184.4" y="72.7" width="4.6" height="4.6"/>
<rect x="1182.6" y="68.3" width="4.6" height="4.6"/>
<rect x="1120.8" y="116.9" width="4.6" height="4.6"/>
<rect x="1109.5" y="120.3" width="4.6" height="4.6"/>
<rect x="1109.6" y="112.8" width="4.6" height="4.6"/>
<rect x="1107.2" y="123.0" width="4.6" height="4.6"/>
<rect x="1099.5" y="122.8" width="4.6" height="4.6"/>
<rect x="1098.3" y="111.8" width="4.6" height="4.6"/>
<rect x="1113.9" y="118.5" width="4.6" height="4.6"/>
<rect x="1123.7" y="120.5" width="4.6" height="4.6"/>
<rect x="1117.4" y="113.3" width="4.6" height="4.6"/>
<rect x="1096.9" y="125.0" width="4.6" height="4.6"/>
<rect x="1102.5" y="112.8" width="4.6" height="4.6"/>
<rect x="1122.3" y="123.4" width="4.6" height="4.6"/>
<rect x="1120.1" y="119.2" width="4.6" height="4.6"/>
<rect x="1107.2" y="120.0" width="4.6" height="4.6"/>
<rect x="1107.8" y="126.3" width="4.6" height="4.6"/>
<rect x="1101.8" y="123.4" width="4.6" height="4.6"/>
<rect x="1116.4" y="36.0" width="4.6" height="4.6"/>
<rect x="1125.0" y="38.7" width="4.6" height="4.6"/>
<rect x="1108.0" y="38.8" width="4.6" height="4.6"/>
<rect x="1110.9" y="36.0" width="4.6" height="4.6"/>
<rect x="1149.4" y="91.0" width="4.6" height="4.6"/>
<rect x="1152.2" y="78.4" width="4.6" height="4.6"/>
<rect x="1132.7" y="89.0" width="4.6" height="4.6"/>
<rect x="1143.2" y="83.6" width="4.6" height="4.6"/>
<rect x="1146.1" y="87.1" width="4.6" height="4.6"/>
<rect x="1146.5" y="89.6" width="4.6" height="4.6"/>
<rect x="1138.2" y="68.7" width="4.6" height="4.6"/>
<rect x="1147.8" y="79.4" width="4.6" height="4.6"/>
<rect x="1132.9" y="85.4" width="4.6" height="4.6"/>
<rect x="1151.3" y="96.6" width="4.6" height="4.6"/>
<rect x="1153.5" y="87.6" width="4.6" height="4.6"/>
<rect x="1148.1" y="85.1" width="4.6" height="4.6"/>
<rect x="1146.7" y="71.8" width="4.6" height="4.6"/>
<rect x="1142.0" y="68.2" width="4.6" height="4.6"/>
<rect x="1159.7" y="249.5" width="4.6" height="4.6"/>
<rect x="1168.2" y="247.5" width="4.6" height="4.6"/>
<rect x="1171.0" y="259.4" width="4.6" height="4.6"/>
<rect x="1173.8" y="267.9" width="4.6" height="4.6"/>
<rect x="1179.4" y="265.0" width="4.6" height="4.6"/>
<rect x="1182.2" y="277.7" width="4.6" height="4.6"/>
<rect x="1185.0" y="293.2" width="4.6" height="4.6"/>
<rect x="1180.8" y="301.6" width="4.6" height="4.6"/>
<rect x="1182.2" y="310.1" width="4.6" height="4.6"/>
<rect x="1193.4" y="315.7" width="4.6" height="4.6"/>
<rect x="1196.2" y="279.0" width="4.6" height="4.6"/>
<rect x="1204.8" y="276.3" width="4.6" height="4.6"/>
<rect x="1199.2" y="287.5" width="4.6" height="4.6"/>
<rect x="1202.0" y="296.1" width="4.6" height="4.6"/>
<rect x="1206.2" y="301.6" width="4.6" height="4.6"/>
<rect x="1210.4" y="296.1" width="4.6" height="4.6"/>
<rect x="1200.6" y="310.1" width="4.6" height="4.6"/>
<rect x="1190.8" y="318.5" width="4.6" height="4.6"/>
<rect x="1173.8" y="315.7" width="4.6" height="4.6"/>
<rect x="1176.6" y="324.1" width="4.6" height="4.6"/>
<rect x="1159.1" y="305.9" width="4.6" height="4.6"/>
<rect x="1149.0" y="280.5" width="4.6" height="4.6"/>
<rect x="1141.8" y="265.6" width="4.6" height="4.6"/>
<rect x="1134.9" y="287.5" width="4.6" height="4.6"/>
<rect x="1200.1" y="306.7" width="4.6" height="4.6"/>
<rect x="1206.8" y="307.7" width="4.6" height="4.6"/>
<rect x="1202.0" y="293.0" width="4.6" height="4.6"/>
<rect x="1209.0" y="313.0" width="4.6" height="4.6"/>
<rect x="1205.9" y="285.7" width="4.6" height="4.6"/>
<rect x="1208.9" y="301.6" width="4.6" height="4.6"/>
<rect x="1200.9" y="302.0" width="4.6" height="4.6"/>
<rect x="1198.5" y="301.8" width="4.6" height="4.6"/>
<rect x="1202.8" y="300.9" width="4.6" height="4.6"/>
<rect x="1208.9" y="301.5" width="4.6" height="4.6"/>
<rect x="1197.1" y="292.0" width="4.6" height="4.6"/>
<rect x="1198.8" y="303.1" width="4.6" height="4.6"/>
<rect x="1203.0" y="302.3" width="4.6" height="4.6"/>
<rect x="1199.1" y="301.6" width="4.6" height="4.6"/>
<rect x="1213.3" y="304.3" width="4.6" height="4.6"/>
<rect x="1203.0" y="291.4" width="4.6" height="4.6"/>
<rect x="1206.9" y="294.1" width="4.6" height="4.6"/>
<rect x="1207.4" y="314.4" width="4.6" height="4.6"/>
<rect x="1199.8" y="298.8" width="4.6" height="4.6"/>
<rect x="1205.8" y="290.1" width="4.6" height="4.6"/>
<rect x="1205.7" y="301.6" width="4.6" height="4.6"/>
<rect x="1203.8" y="301.4" width="4.6" height="4.6"/>
<rect x="1204.7" y="294.8" width="4.6" height="4.6"/>
<rect x="1202.1" y="305.8" width="4.6" height="4.6"/>
<rect x="1199.8" y="291.6" width="4.6" height="4.6"/>
<rect x="1209.3" y="292.4" width="4.6" height="4.6"/>
<rect x="1094.2" y="128.5" width="4.6" height="4.6"/>
<rect x="1120.3" y="154.2" width="4.6" height="4.6"/>
<rect x="1187.4" y="51.5" width="4.6" height="4.6"/>
<rect x="1195.0" y="52.0" width="4.6" height="4.6"/>
<rect x="1113.3" y="473.6" width="4.6" height="4.6"/>
<rect x="1170.5" y="468.6" width="4.6" height="4.6"/>
<path d="M1067.2 471.8L1070.0 476.6H1064.4Z"/>
<path d="M1071.0 47.3L1073.8 52.1H1068.2Z"/>
<path d="M1069.8 52.2L1072.6 57.0H1067.0Z"/>
<path d="M1083.8 36.1L1086.5 40.9H1081.0Z"/>
<path d="M1142.3 46.0L1145.1 50.8H1139.5Z"/>
<path d="M1166.5 45.4L1169.3 50.2H1163.7Z"/>
<path d="M1109.2 36.1L1112.0 40.9H1106.4Z"/>
<rect x="1360.1" y="217.8" width="4.6" height="4.6"/>
<rect x="1363.9" y="217.8" width="4.6" height="4.6"/>
<rect x="1356.3" y="216.6" width="4.6" height="4.6"/>
<path d="M1398.1 226.0L1400.9 230.8H1395.3Z"/>
<path d="M1410.8 259.6L1413.6 264.4H1408.0Z"/>
<circle cx="1363.8" cy="439.8" r="2.8"/>
<path d="M1365.2 403.1L1368.0 407.9H1362.4Z"/>
<path d="M1367.3 410.1L1370.1 414.9H1364.5Z"/>
<path d="M1371.5 419.6L1374.3 424.4H1368.7Z"/>
<path d="M1465.5 465.6L1468.3 470.4H1462.7Z"/>
<path d="M1504.9 448.3L1507.7 453.1H1502.1Z"/>
</g>
</g>
<g id="pD">
<rect x="220.7" y="577.2" width="749.6" height="224.5" fill="none" stroke="#4a4a4a" stroke-width="1.6"/>
<rect x="272.98" y="755.2" width="2.43" height="46.5" fill="#c4c4c4" stroke="#3c3c3c" stroke-width="0.8"/>
<rect x="276.11" y="778.4" width="2.43" height="23.3" fill="#c4c4c4" stroke="#3c3c3c" stroke-width="0.8"/>
<rect x="279.23" y="778.4" width="2.43" height="23.3" fill="#c4c4c4" stroke="#3c3c3c" stroke-width="0.8"/>
<rect x="282.36" y="795.4" width="2.43" height="6.3" fill="#c4c4c4" stroke="#3c3c3c" stroke-width="0.8"/>
<rect x="285.49" y="791.1" width="2.43" height="10.6" fill="#c4c4c4" stroke="#3c3c3c" stroke-width="0.8"/>
<rect x="288.62" y="779.5" width="2.43" height="22.2" fill="#c4c4c4" stroke="#3c3c3c" stroke-width="0.8"/>
<rect x="291.74" y="762.2" width="2.43" height="39.5" fill="#c4c4c4" stroke="#3c3c3c" stroke-width="0.8"/>
<rect x="294.87" y="733.0" width="2.43" height="68.7" fill="#c4c4c4" stroke="#3c3c3c" stroke-width="0.8"/>
<rect x="298.00" y="737.7" width="2.43" height="64.0" fill="#c4c4c4" stroke="#3c3c3c" stroke-width="0.8"/>
<rect x="301.12" y="674.5" width="2.43" height="127.2" fill="#bfb72a" stroke="#57520f" stroke-width="0.8"/>
<rect x="304.25" y="692.4" width="2.43" height="109.3" fill="#bfb72a" stroke="#57520f" stroke-width="0.8"/>
<rect x="307.38" y="670.2" width="2.43" height="131.5" fill="#bfb72a" stroke="#57520f" stroke-width="0.8"/>
<rect x="310.50" y="689.7" width="2.43" height="112.0" fill="#bfb72a" stroke="#57520f" stroke-width="0.8"/>
<rect x="313.63" y="739.0" width="2.43" height="62.7" fill="#c4c4c4" stroke="#3c3c3c" stroke-width="0.8"/>
<rect x="316.76" y="724.5" width="2.43" height="77.2" fill="#c4c4c4" stroke="#3c3c3c" stroke-width="0.8"/>
<rect x="319.89" y="767.9" width="2.43" height="33.8" fill="#c4c4c4" stroke="#3c3c3c" stroke-width="0.8"/>
<rect x="323.01" y="785.4" width="2.43" height="16.3" fill="#c4c4c4" stroke="#3c3c3c" stroke-width="0.8"/>
<rect x="326.14" y="791.0" width="2.43" height="10.7" fill="#c4c4c4" stroke="#3c3c3c" stroke-width="0.8"/>
<rect x="329.27" y="790.1" width="2.43" height="11.6" fill="#c4c4c4" stroke="#3c3c3c" stroke-width="0.8"/>
<rect x="332.39" y="775.0" width="2.43" height="26.7" fill="#c4c4c4" stroke="#3c3c3c" stroke-width="0.8"/>
<rect x="335.52" y="771.5" width="2.43" height="30.2" fill="#c4c4c4" stroke="#3c3c3c" stroke-width="0.8"/>
<rect x="338.65" y="767.3" width="2.43" height="34.4" fill="#c4c4c4" stroke="#3c3c3c" stroke-width="0.8"/>
<rect x="341.77" y="770.1" width="2.43" height="31.6" fill="#c4c4c4" stroke="#3c3c3c" stroke-width="0.8"/>
<rect x="344.90" y="758.1" width="2.43" height="43.6" fill="#c4c4c4" stroke="#3c3c3c" stroke-width="0.8"/>
<rect x="348.03" y="732.6" width="2.43" height="69.1" fill="#c4c4c4" stroke="#3c3c3c" stroke-width="0.8"/>
<rect x="351.16" y="718.0" width="2.43" height="83.7" fill="#c4c4c4" stroke="#3c3c3c" stroke-width="0.8"/>
<rect x="354.28" y="700.4" width="2.43" height="101.3" fill="#bfb72a" stroke="#57520f" stroke-width="0.8"/>
<rect x="357.41" y="686.1" width="2.43" height="115.6" fill="#bfb72a" stroke="#57520f" stroke-width="0.8"/>
<rect x="360.54" y="695.2" width="2.43" height="106.5" fill="#bfb72a" stroke="#57520f" stroke-width="0.8"/>
<rect x="363.66" y="721.3" width="2.43" height="80.4" fill="#c4c4c4" stroke="#3c3c3c" stroke-width="0.8"/>
<rect x="366.79" y="743.0" width="2.43" height="58.7" fill="#c4c4c4" stroke="#3c3c3c" stroke-width="0.8"/>
<rect x="369.92" y="761.6" width="2.43" height="40.1" fill="#c4c4c4" stroke="#3c3c3c" stroke-width="0.8"/>
<rect x="373.04" y="779.4" width="2.43" height="22.3" fill="#c4c4c4" stroke="#3c3c3c" stroke-width="0.8"/>
<rect x="376.17" y="782.9" width="2.43" height="18.8" fill="#c4c4c4" stroke="#3c3c3c" stroke-width="0.8"/>
<rect x="379.30" y="782.3" width="2.43" height="19.4" fill="#c4c4c4" stroke="#3c3c3c" stroke-width="0.8"/>
<rect x="382.43" y="784.3" width="2.43" height="17.4" fill="#c4c4c4" stroke="#3c3c3c" stroke-width="0.8"/>
<rect x="385.55" y="790.1" width="2.43" height="11.6" fill="#c4c4c4" stroke="#3c3c3c" stroke-width="0.8"/>
<rect x="388.68" y="793.0" width="2.43" height="8.7" fill="#c4c4c4" stroke="#3c3c3c" stroke-width="0.8"/>
<rect x="391.81" y="794.9" width="2.43" height="6.8" fill="#c4c4c4" stroke="#3c3c3c" stroke-width="0.8"/>
<rect x="394.93" y="794.0" width="2.43" height="7.7" fill="#c4c4c4" stroke="#3c3c3c" stroke-width="0.8"/>
<rect x="398.06" y="778.5" width="2.43" height="23.2" fill="#c4c4c4" stroke="#3c3c3c" stroke-width="0.8"/>
<rect x="407.44" y="758.5" width="2.43" height="43.2" fill="#c4c4c4" stroke="#3c3c3c" stroke-width="0.8"/>
<rect x="410.57" y="760.0" width="2.43" height="41.7" fill="#c4c4c4" stroke="#3c3c3c" stroke-width="0.8"/>
<rect x="413.70" y="752.0" width="2.43" height="49.7" fill="#c4c4c4" stroke="#3c3c3c" stroke-width="0.8"/>
<rect x="416.82" y="750.8" width="2.43" height="50.9" fill="#c4c4c4" stroke="#3c3c3c" stroke-width="0.8"/>
<rect x="419.95" y="771.3" width="2.43" height="30.4" fill="#c4c4c4" stroke="#3c3c3c" stroke-width="0.8"/>
<rect x="423.08" y="782.3" width="2.43" height="19.4" fill="#c4c4c4" stroke="#3c3c3c" stroke-width="0.8"/>
<rect x="426.20" y="788.1" width="2.43" height="13.6" fill="#c4c4c4" stroke="#3c3c3c" stroke-width="0.8"/>
<rect x="429.33" y="795.0" width="2.43" height="6.7" fill="#c4c4c4" stroke="#3c3c3c" stroke-width="0.8"/>
<rect x="432.46" y="794.0" width="2.43" height="7.7" fill="#c4c4c4" stroke="#3c3c3c" stroke-width="0.8"/>
<rect x="435.58" y="788.1" width="2.43" height="13.6" fill="#c4c4c4" stroke="#3c3c3c" stroke-width="0.8"/>
<rect x="438.71" y="789.2" width="2.43" height="12.5" fill="#c4c4c4" stroke="#3c3c3c" stroke-width="0.8"/>
<rect x="441.84" y="788.8" width="2.43" height="12.9" fill="#c4c4c4" stroke="#3c3c3c" stroke-width="0.8"/>
<rect x="444.97" y="779.5" width="2.43" height="22.2" fill="#c4c4c4" stroke="#3c3c3c" stroke-width="0.8"/>
<rect x="448.09" y="763.2" width="2.43" height="38.5" fill="#c4c4c4" stroke="#3c3c3c" stroke-width="0.8"/>
<rect x="451.22" y="762.1" width="2.43" height="39.6" fill="#c4c4c4" stroke="#3c3c3c" stroke-width="0.8"/>
<rect x="454.35" y="763.2" width="2.43" height="38.5" fill="#c4c4c4" stroke="#3c3c3c" stroke-width="0.8"/>
<rect x="457.47" y="773.0" width="2.43" height="28.7" fill="#c4c4c4" stroke="#3c3c3c" stroke-width="0.8"/>
<rect x="460.60" y="778.0" width="2.43" height="23.7" fill="#c4c4c4" stroke="#3c3c3c" stroke-width="0.8"/>
<rect x="463.73" y="766.5" width="2.43" height="35.2" fill="#c4c4c4" stroke="#3c3c3c" stroke-width="0.8"/>
<rect x="466.85" y="729.6" width="2.43" height="72.1" fill="#c4c4c4" stroke="#3c3c3c" stroke-width="0.8"/>
<rect x="469.98" y="724.6" width="2.43" height="77.1" fill="#c4c4c4" stroke="#3c3c3c" stroke-width="0.8"/>
<rect x="473.11" y="725.2" width="2.43" height="76.5" fill="#c4c4c4" stroke="#3c3c3c" stroke-width="0.8"/>
<rect x="476.24" y="738.2" width="2.43" height="63.5" fill="#c4c4c4" stroke="#3c3c3c" stroke-width="0.8"/>
<rect x="479.36" y="729.6" width="2.43" height="72.1" fill="#c4c4c4" stroke="#3c3c3c" stroke-width="0.8"/>
<rect x="482.49" y="702.4" width="2.43" height="99.3" fill="#bfb72a" stroke="#57520f" stroke-width="0.8"/>
<rect x="485.62" y="732.4" width="2.43" height="69.3" fill="#c4c4c4" stroke="#3c3c3c" stroke-width="0.8"/>
<rect x="488.74" y="762.1" width="2.43" height="39.6" fill="#c4c4c4" stroke="#3c3c3c" stroke-width="0.8"/>
<rect x="491.87" y="796.8" width="2.43" height="4.9" fill="#c4c4c4" stroke="#3c3c3c" stroke-width="0.8"/>
<rect x="495.00" y="782.7" width="2.43" height="19.0" fill="#c4c4c4" stroke="#3c3c3c" stroke-width="0.8"/>
<rect x="498.12" y="762.8" width="2.43" height="38.9" fill="#c4c4c4" stroke="#3c3c3c" stroke-width="0.8"/>
<rect x="501.25" y="737.6" width="2.43" height="64.1" fill="#c4c4c4" stroke="#3c3c3c" stroke-width="0.8"/>
<rect x="504.38" y="694.9" width="2.43" height="106.8" fill="#bfb72a" stroke="#57520f" stroke-width="0.8"/>
<rect x="507.51" y="714.4" width="2.43" height="87.3" fill="#c4c4c4" stroke="#3c3c3c" stroke-width="0.8"/>
<rect x="510.63" y="699.2" width="2.43" height="102.5" fill="#bfb72a" stroke="#57520f" stroke-width="0.8"/>
<rect x="513.76" y="648.2" width="2.43" height="153.5" fill="#ad110f" stroke="#4a0606" stroke-width="0.8"/>
<rect x="516.89" y="637.8" width="2.43" height="163.9" fill="#ad110f" stroke="#4a0606" stroke-width="0.8"/>
<rect x="520.01" y="684.0" width="2.43" height="117.7" fill="#bfb72a" stroke="#57520f" stroke-width="0.8"/>
<rect x="523.14" y="698.5" width="2.43" height="103.2" fill="#bfb72a" stroke="#57520f" stroke-width="0.8"/>
<rect x="526.27" y="734.6" width="2.43" height="67.1" fill="#c4c4c4" stroke="#3c3c3c" stroke-width="0.8"/>
<rect x="529.39" y="720.9" width="2.43" height="80.8" fill="#c4c4c4" stroke="#3c3c3c" stroke-width="0.8"/>
<rect x="532.52" y="757.8" width="2.43" height="43.9" fill="#c4c4c4" stroke="#3c3c3c" stroke-width="0.8"/>
<rect x="535.65" y="742.6" width="2.43" height="59.1" fill="#c4c4c4" stroke="#3c3c3c" stroke-width="0.8"/>
<rect x="538.78" y="718.7" width="2.43" height="83.0" fill="#c4c4c4" stroke="#3c3c3c" stroke-width="0.8"/>
<rect x="541.90" y="720.9" width="2.43" height="80.8" fill="#c4c4c4" stroke="#3c3c3c" stroke-width="0.8"/>
<rect x="545.03" y="702.0" width="2.43" height="99.7" fill="#bfb72a" stroke="#57520f" stroke-width="0.8"/>
<rect x="548.16" y="661.2" width="2.43" height="140.5" fill="#bfb72a" stroke="#57520f" stroke-width="0.8"/>
<rect x="551.28" y="654.7" width="2.43" height="147.0" fill="#ad110f" stroke="#4a0606" stroke-width="0.8"/>
<rect x="554.41" y="695.5" width="2.43" height="106.2" fill="#bfb72a" stroke="#57520f" stroke-width="0.8"/>
<rect x="557.54" y="722.0" width="2.43" height="79.7" fill="#c4c4c4" stroke="#3c3c3c" stroke-width="0.8"/>
<rect x="560.66" y="764.9" width="2.43" height="36.8" fill="#c4c4c4" stroke="#3c3c3c" stroke-width="0.8"/>
<rect x="563.79" y="732.4" width="2.43" height="69.3" fill="#c4c4c4" stroke="#3c3c3c" stroke-width="0.8"/>
<rect x="566.92" y="764.9" width="2.43" height="36.8" fill="#c4c4c4" stroke="#3c3c3c" stroke-width="0.8"/>
<rect x="570.05" y="788.1" width="2.43" height="13.6" fill="#c4c4c4" stroke="#3c3c3c" stroke-width="0.8"/>
<rect x="573.17" y="794.2" width="2.43" height="7.5" fill="#c4c4c4" stroke="#3c3c3c" stroke-width="0.8"/>
<rect x="576.30" y="795.3" width="2.43" height="6.4" fill="#c4c4c4" stroke="#3c3c3c" stroke-width="0.8"/>
<rect x="579.43" y="794.7" width="2.43" height="7.0" fill="#c4c4c4" stroke="#3c3c3c" stroke-width="0.8"/>
<rect x="582.55" y="797.9" width="2.43" height="3.8" fill="#c4c4c4" stroke="#3c3c3c" stroke-width="0.8"/>
<rect x="585.68" y="788.1" width="2.43" height="13.6" fill="#c4c4c4" stroke="#3c3c3c" stroke-width="0.8"/>
<rect x="588.81" y="755.6" width="2.43" height="46.1" fill="#c4c4c4" stroke="#3c3c3c" stroke-width="0.8"/>
<rect x="591.93" y="746.3" width="2.43" height="55.4" fill="#c4c4c4" stroke="#3c3c3c" stroke-width="0.8"/>
<rect x="595.06" y="731.7" width="2.43" height="70.0" fill="#c4c4c4" stroke="#3c3c3c" stroke-width="0.8"/>
<rect x="598.19" y="689.0" width="2.43" height="112.7" fill="#bfb72a" stroke="#57520f" stroke-width="0.8"/>
<rect x="601.32" y="649.7" width="2.43" height="152.0" fill="#ad110f" stroke="#4a0606" stroke-width="0.8"/>
<rect x="604.44" y="669.9" width="2.43" height="131.8" fill="#bfb72a" stroke="#57520f" stroke-width="0.8"/>
<rect x="607.57" y="679.0" width="2.43" height="122.7" fill="#bfb72a" stroke="#57520f" stroke-width="0.8"/>
<rect x="610.70" y="692.2" width="2.43" height="109.5" fill="#bfb72a" stroke="#57520f" stroke-width="0.8"/>
<rect x="613.82" y="736.1" width="2.43" height="65.6" fill="#c4c4c4" stroke="#3c3c3c" stroke-width="0.8"/>
<rect x="616.95" y="758.9" width="2.43" height="42.8" fill="#c4c4c4" stroke="#3c3c3c" stroke-width="0.8"/>
<rect x="620.08" y="763.2" width="2.43" height="38.5" fill="#c4c4c4" stroke="#3c3c3c" stroke-width="0.8"/>
<rect x="623.20" y="776.2" width="2.43" height="25.5" fill="#c4c4c4" stroke="#3c3c3c" stroke-width="0.8"/>
<rect x="626.33" y="780.6" width="2.43" height="21.1" fill="#c4c4c4" stroke="#3c3c3c" stroke-width="0.8"/>
<rect x="629.46" y="780.6" width="2.43" height="21.1" fill="#c4c4c4" stroke="#3c3c3c" stroke-width="0.8"/>
<rect x="632.59" y="767.1" width="2.43" height="34.6" fill="#c4c4c4" stroke="#3c3c3c" stroke-width="0.8"/>
<rect x="635.71" y="754.5" width="2.43" height="47.2" fill="#c4c4c4" stroke="#3c3c3c" stroke-width="0.8"/>
<rect x="638.84" y="736.0" width="2.43" height="65.7" fill="#c4c4c4" stroke="#3c3c3c" stroke-width="0.8"/>
<rect x="641.97" y="729.6" width="2.43" height="72.1" fill="#c4c4c4" stroke="#3c3c3c" stroke-width="0.8"/>
<rect x="645.09" y="736.1" width="2.43" height="65.6" fill="#c4c4c4" stroke="#3c3c3c" stroke-width="0.8"/>
<rect x="648.22" y="738.2" width="2.43" height="63.5" fill="#c4c4c4" stroke="#3c3c3c" stroke-width="0.8"/>
<rect x="651.35" y="722.0" width="2.43" height="79.7" fill="#c4c4c4" stroke="#3c3c3c" stroke-width="0.8"/>
<rect x="654.47" y="745.4" width="2.43" height="56.3" fill="#c4c4c4" stroke="#3c3c3c" stroke-width="0.8"/>
<rect x="657.60" y="728.0" width="2.43" height="73.7" fill="#c4c4c4" stroke="#3c3c3c" stroke-width="0.8"/>
<rect x="660.73" y="725.2" width="2.43" height="76.5" fill="#c4c4c4" stroke="#3c3c3c" stroke-width="0.8"/>
<rect x="663.86" y="742.6" width="2.43" height="59.1" fill="#c4c4c4" stroke="#3c3c3c" stroke-width="0.8"/>
<rect x="666.98" y="751.3" width="2.43" height="50.4" fill="#c4c4c4" stroke="#3c3c3c" stroke-width="0.8"/>
<rect x="670.11" y="720.9" width="2.43" height="80.8" fill="#c4c4c4" stroke="#3c3c3c" stroke-width="0.8"/>
<rect x="673.24" y="726.7" width="2.43" height="75.0" fill="#c4c4c4" stroke="#3c3c3c" stroke-width="0.8"/>
<rect x="682.62" y="698.5" width="2.43" height="103.2" fill="#bfb72a" stroke="#57520f" stroke-width="0.8"/>
<rect x="685.74" y="718.7" width="2.43" height="83.0" fill="#c4c4c4" stroke="#3c3c3c" stroke-width="0.8"/>
<rect x="688.87" y="725.9" width="2.43" height="75.8" fill="#c4c4c4" stroke="#3c3c3c" stroke-width="0.8"/>
<rect x="692.00" y="745.4" width="2.43" height="56.3" fill="#c4c4c4" stroke="#3c3c3c" stroke-width="0.8"/>
<rect x="695.13" y="739.3" width="2.43" height="62.4" fill="#c4c4c4" stroke="#3c3c3c" stroke-width="0.8"/>
<rect x="698.25" y="743.2" width="2.43" height="58.5" fill="#c4c4c4" stroke="#3c3c3c" stroke-width="0.8"/>
<rect x="701.38" y="703.2" width="2.43" height="98.5" fill="#bfb72a" stroke="#57520f" stroke-width="0.8"/>
<rect x="704.51" y="696.5" width="2.43" height="105.2" fill="#bfb72a" stroke="#57520f" stroke-width="0.8"/>
<rect x="707.63" y="706.0" width="2.43" height="95.7" fill="#c4c4c4" stroke="#3c3c3c" stroke-width="0.8"/>
<rect x="710.76" y="704.3" width="2.43" height="97.4" fill="#bfb72a" stroke="#57520f" stroke-width="0.8"/>
<rect x="713.89" y="706.0" width="2.43" height="95.7" fill="#c4c4c4" stroke="#3c3c3c" stroke-width="0.8"/>
<rect x="717.01" y="716.3" width="2.43" height="85.4" fill="#c4c4c4" stroke="#3c3c3c" stroke-width="0.8"/>
<rect x="720.14" y="760.6" width="2.43" height="41.1" fill="#c4c4c4" stroke="#3c3c3c" stroke-width="0.8"/>
<rect x="723.27" y="763.2" width="2.43" height="38.5" fill="#c4c4c4" stroke="#3c3c3c" stroke-width="0.8"/>
<rect x="726.40" y="769.7" width="2.43" height="32.0" fill="#c4c4c4" stroke="#3c3c3c" stroke-width="0.8"/>
<rect x="729.52" y="754.5" width="2.43" height="47.2" fill="#c4c4c4" stroke="#3c3c3c" stroke-width="0.8"/>
<rect x="732.65" y="739.3" width="2.43" height="62.4" fill="#c4c4c4" stroke="#3c3c3c" stroke-width="0.8"/>
<rect x="735.78" y="722.0" width="2.43" height="79.7" fill="#c4c4c4" stroke="#3c3c3c" stroke-width="0.8"/>
<rect x="738.90" y="751.3" width="2.43" height="50.4" fill="#c4c4c4" stroke="#3c3c3c" stroke-width="0.8"/>
<rect x="742.03" y="726.0" width="2.43" height="75.7" fill="#c4c4c4" stroke="#3c3c3c" stroke-width="0.8"/>
<rect x="745.16" y="731.7" width="2.43" height="70.0" fill="#c4c4c4" stroke="#3c3c3c" stroke-width="0.8"/>
<rect x="748.28" y="741.0" width="2.43" height="60.7" fill="#c4c4c4" stroke="#3c3c3c" stroke-width="0.8"/>
<rect x="751.41" y="750.2" width="2.43" height="51.5" fill="#c4c4c4" stroke="#3c3c3c" stroke-width="0.8"/>
<rect x="754.54" y="748.0" width="2.43" height="53.7" fill="#c4c4c4" stroke="#3c3c3c" stroke-width="0.8"/>
<rect x="757.67" y="737.2" width="2.43" height="64.5" fill="#c4c4c4" stroke="#3c3c3c" stroke-width="0.8"/>
<rect x="760.79" y="768.2" width="2.43" height="33.5" fill="#c4c4c4" stroke="#3c3c3c" stroke-width="0.8"/>
<rect x="763.92" y="778.0" width="2.43" height="23.7" fill="#c4c4c4" stroke="#3c3c3c" stroke-width="0.8"/>
<rect x="767.05" y="782.3" width="2.43" height="19.4" fill="#c4c4c4" stroke="#3c3c3c" stroke-width="0.8"/>
<rect x="770.17" y="766.5" width="2.43" height="35.2" fill="#c4c4c4" stroke="#3c3c3c" stroke-width="0.8"/>
<rect x="773.30" y="774.0" width="2.43" height="27.7" fill="#c4c4c4" stroke="#3c3c3c" stroke-width="0.8"/>
<rect x="776.43" y="763.6" width="2.43" height="38.1" fill="#c4c4c4" stroke="#3c3c3c" stroke-width="0.8"/>
<rect x="779.55" y="769.7" width="2.43" height="32.0" fill="#c4c4c4" stroke="#3c3c3c" stroke-width="0.8"/>
<rect x="782.68" y="766.9" width="2.43" height="34.8" fill="#c4c4c4" stroke="#3c3c3c" stroke-width="0.8"/>
<rect x="785.81" y="778.4" width="2.43" height="23.3" fill="#c4c4c4" stroke="#3c3c3c" stroke-width="0.8"/>
<rect x="788.94" y="779.5" width="2.43" height="22.2" fill="#c4c4c4" stroke="#3c3c3c" stroke-width="0.8"/>
<rect x="792.06" y="771.9" width="2.43" height="29.8" fill="#c4c4c4" stroke="#3c3c3c" stroke-width="0.8"/>
<rect x="795.19" y="769.3" width="2.43" height="32.4" fill="#c4c4c4" stroke="#3c3c3c" stroke-width="0.8"/>
<rect x="798.32" y="757.8" width="2.43" height="43.9" fill="#c4c4c4" stroke="#3c3c3c" stroke-width="0.8"/>
<rect x="801.44" y="771.9" width="2.43" height="29.8" fill="#c4c4c4" stroke="#3c3c3c" stroke-width="0.8"/>
<rect x="804.57" y="774.0" width="2.43" height="27.7" fill="#c4c4c4" stroke="#3c3c3c" stroke-width="0.8"/>
<rect x="807.70" y="770.8" width="2.43" height="30.9" fill="#c4c4c4" stroke="#3c3c3c" stroke-width="0.8"/>
<rect x="810.82" y="771.4" width="2.43" height="30.3" fill="#c4c4c4" stroke="#3c3c3c" stroke-width="0.8"/>
<rect x="813.95" y="762.1" width="2.43" height="39.6" fill="#c4c4c4" stroke="#3c3c3c" stroke-width="0.8"/>
<rect x="817.08" y="770.1" width="2.43" height="31.6" fill="#c4c4c4" stroke="#3c3c3c" stroke-width="0.8"/>
<rect x="820.21" y="771.9" width="2.43" height="29.8" fill="#c4c4c4" stroke="#3c3c3c" stroke-width="0.8"/>
<rect x="823.33" y="770.8" width="2.43" height="30.9" fill="#c4c4c4" stroke="#3c3c3c" stroke-width="0.8"/>
<rect x="826.46" y="780.6" width="2.43" height="21.1" fill="#c4c4c4" stroke="#3c3c3c" stroke-width="0.8"/>
<rect x="829.59" y="755.6" width="2.43" height="46.1" fill="#c4c4c4" stroke="#3c3c3c" stroke-width="0.8"/>
<rect x="832.71" y="761.5" width="2.43" height="40.2" fill="#c4c4c4" stroke="#3c3c3c" stroke-width="0.8"/>
<rect x="835.84" y="732.8" width="2.43" height="68.9" fill="#c4c4c4" stroke="#3c3c3c" stroke-width="0.8"/>
<rect x="838.97" y="703.5" width="2.43" height="98.2" fill="#bfb72a" stroke="#57520f" stroke-width="0.8"/>
<rect x="842.09" y="687.7" width="2.43" height="114.0" fill="#bfb72a" stroke="#57520f" stroke-width="0.8"/>
<rect x="845.22" y="673.2" width="2.43" height="128.5" fill="#bfb72a" stroke="#57520f" stroke-width="0.8"/>
<rect x="848.35" y="615.6" width="2.43" height="186.1" fill="#ad110f" stroke="#4a0606" stroke-width="0.8"/>
<rect x="851.48" y="674.6" width="2.43" height="127.1" fill="#bfb72a" stroke="#57520f" stroke-width="0.8"/>
<rect x="854.60" y="680.6" width="2.43" height="121.1" fill="#bfb72a" stroke="#57520f" stroke-width="0.8"/>
<rect x="857.73" y="723.2" width="2.43" height="78.5" fill="#c4c4c4" stroke="#3c3c3c" stroke-width="0.8"/>
<rect x="860.86" y="726.3" width="2.43" height="75.4" fill="#c4c4c4" stroke="#3c3c3c" stroke-width="0.8"/>
<rect x="863.98" y="737.6" width="2.43" height="64.1" fill="#c4c4c4" stroke="#3c3c3c" stroke-width="0.8"/>
<rect x="867.11" y="735.2" width="2.43" height="66.5" fill="#c4c4c4" stroke="#3c3c3c" stroke-width="0.8"/>
<rect x="870.24" y="727.0" width="2.43" height="74.7" fill="#c4c4c4" stroke="#3c3c3c" stroke-width="0.8"/>
<rect x="873.36" y="748.7" width="2.43" height="53.0" fill="#c4c4c4" stroke="#3c3c3c" stroke-width="0.8"/>
<rect x="876.49" y="737.2" width="2.43" height="64.5" fill="#c4c4c4" stroke="#3c3c3c" stroke-width="0.8"/>
<rect x="879.62" y="709.5" width="2.43" height="92.2" fill="#c4c4c4" stroke="#3c3c3c" stroke-width="0.8"/>
<rect x="882.75" y="762.1" width="2.43" height="39.6" fill="#c4c4c4" stroke="#3c3c3c" stroke-width="0.8"/>
<rect x="885.87" y="757.2" width="2.43" height="44.5" fill="#c4c4c4" stroke="#3c3c3c" stroke-width="0.8"/>
<rect x="889.00" y="769.8" width="2.43" height="31.9" fill="#c4c4c4" stroke="#3c3c3c" stroke-width="0.8"/>
<rect x="892.13" y="773.2" width="2.43" height="28.5" fill="#c4c4c4" stroke="#3c3c3c" stroke-width="0.8"/>
<rect x="895.25" y="774.7" width="2.43" height="27.0" fill="#c4c4c4" stroke="#3c3c3c" stroke-width="0.8"/>
<rect x="898.38" y="772.4" width="2.43" height="29.3" fill="#c4c4c4" stroke="#3c3c3c" stroke-width="0.8"/>
<rect x="901.51" y="777.8" width="2.43" height="23.9" fill="#c4c4c4" stroke="#3c3c3c" stroke-width="0.8"/>
<rect x="904.63" y="775.9" width="2.43" height="25.8" fill="#c4c4c4" stroke="#3c3c3c" stroke-width="0.8"/>
<rect x="907.76" y="786.9" width="2.43" height="14.8" fill="#c4c4c4" stroke="#3c3c3c" stroke-width="0.8"/>
<rect x="910.89" y="791.1" width="2.43" height="10.6" fill="#c4c4c4" stroke="#3c3c3c" stroke-width="0.8"/>
<rect x="914.02" y="790.7" width="2.43" height="11.0" fill="#c4c4c4" stroke="#3c3c3c" stroke-width="0.8"/>
<rect x="917.14" y="788.1" width="2.43" height="13.6" fill="#c4c4c4" stroke="#3c3c3c" stroke-width="0.8"/>
<rect x="920.27" y="790.5" width="2.43" height="11.2" fill="#c4c4c4" stroke="#3c3c3c" stroke-width="0.8"/>
<rect x="923.40" y="785.8" width="2.43" height="15.9" fill="#c4c4c4" stroke="#3c3c3c" stroke-width="0.8"/>
<rect x="926.52" y="796.1" width="2.43" height="5.6" fill="#c4c4c4" stroke="#3c3c3c" stroke-width="0.8"/>
<rect x="929.65" y="777.4" width="2.43" height="24.3" fill="#c4c4c4" stroke="#3c3c3c" stroke-width="0.8"/>
<rect x="932.78" y="774.7" width="2.43" height="27.0" fill="#c4c4c4" stroke="#3c3c3c" stroke-width="0.8"/>
<rect x="935.90" y="780.4" width="2.43" height="21.3" fill="#c4c4c4" stroke="#3c3c3c" stroke-width="0.8"/>
<rect x="939.03" y="772.8" width="2.43" height="28.9" fill="#c4c4c4" stroke="#3c3c3c" stroke-width="0.8"/>
<rect x="942.16" y="779.7" width="2.43" height="22.0" fill="#c4c4c4" stroke="#3c3c3c" stroke-width="0.8"/>
<rect x="945.29" y="778.2" width="2.43" height="23.5" fill="#c4c4c4" stroke="#3c3c3c" stroke-width="0.8"/>
<rect x="948.41" y="781.6" width="2.43" height="20.1" fill="#c4c4c4" stroke="#3c3c3c" stroke-width="0.8"/>
<rect x="951.54" y="772.0" width="2.43" height="29.7" fill="#c4c4c4" stroke="#3c3c3c" stroke-width="0.8"/>
<rect x="954.67" y="765.6" width="2.43" height="36.1" fill="#c4c4c4" stroke="#3c3c3c" stroke-width="0.8"/>
<rect x="957.79" y="672.7" width="2.43" height="129.0" fill="#bfb72a" stroke="#57520f" stroke-width="0.8"/>
<rect x="960.92" y="705.9" width="2.43" height="95.8" fill="#c4c4c4" stroke="#3c3c3c" stroke-width="0.8"/>
<rect x="964.05" y="722.7" width="2.43" height="79.0" fill="#c4c4c4" stroke="#3c3c3c" stroke-width="0.8"/>
<rect x="967.17" y="711.2" width="2.43" height="90.5" fill="#c4c4c4" stroke="#3c3c3c" stroke-width="0.8"/>
<line x1="220.7" y1="658.4" x2="970.3" y2="658.4" stroke="#3a3a3a" stroke-width="1.5"/>
<line x1="220.7" y1="705.3" x2="970.3" y2="705.3" stroke="#3a3a3a" stroke-width="1.5"/>
<line x1="220.7" y1="801.7" x2="970.3" y2="801.7" stroke="#2a2a2a" stroke-width="2"/>
<line x1="236.7" y1="801.7" x2="236.7" y2="805.7" stroke="#333" stroke-width="1"/>
<line x1="267.9" y1="801.7" x2="267.9" y2="805.7" stroke="#333" stroke-width="1"/>
<line x1="299.2" y1="801.7" x2="299.2" y2="805.7" stroke="#333" stroke-width="1"/>
<line x1="330.5" y1="801.7" x2="330.5" y2="805.7" stroke="#333" stroke-width="1"/>
<line x1="361.8" y1="801.7" x2="361.8" y2="805.7" stroke="#333" stroke-width="1"/>
<line x1="393.0" y1="801.7" x2="393.0" y2="805.7" stroke="#333" stroke-width="1"/>
<line x1="424.3" y1="801.7" x2="424.3" y2="805.7" stroke="#333" stroke-width="1"/>
<line x1="455.6" y1="801.7" x2="455.6" y2="805.7" stroke="#333" stroke-width="1"/>
<line x1="486.8" y1="801.7" x2="486.8" y2="805.7" stroke="#333" stroke-width="1"/>
<line x1="518.1" y1="801.7" x2="518.1" y2="805.7" stroke="#333" stroke-width="1"/>
<line x1="549.4" y1="801.7" x2="549.4" y2="805.7" stroke="#333" stroke-width="1"/>
<line x1="580.6" y1="801.7" x2="580.6" y2="805.7" stroke="#333" stroke-width="1"/>
<line x1="611.9" y1="801.7" x2="611.9" y2="805.7" stroke="#333" stroke-width="1"/>
<line x1="643.2" y1="801.7" x2="643.2" y2="805.7" stroke="#333" stroke-width="1"/>
<line x1="674.4" y1="801.7" x2="674.4" y2="805.7" stroke="#333" stroke-width="1"/>
<line x1="705.7" y1="801.7" x2="705.7" y2="805.7" stroke="#333" stroke-width="1"/>
<line x1="737.0" y1="801.7" x2="737.0" y2="805.7" stroke="#333" stroke-width="1"/>
<line x1="768.3" y1="801.7" x2="768.3" y2="805.7" stroke="#333" stroke-width="1"/>
<line x1="799.5" y1="801.7" x2="799.5" y2="805.7" stroke="#333" stroke-width="1"/>
<line x1="830.8" y1="801.7" x2="830.8" y2="805.7" stroke="#333" stroke-width="1"/>
<line x1="862.1" y1="801.7" x2="862.1" y2="805.7" stroke="#333" stroke-width="1"/>
<line x1="893.3" y1="801.7" x2="893.3" y2="805.7" stroke="#333" stroke-width="1"/>
<line x1="924.6" y1="801.7" x2="924.6" y2="805.7" stroke="#333" stroke-width="1"/>
<line x1="955.9" y1="801.7" x2="955.9" y2="805.7" stroke="#333" stroke-width="1"/>
<line x1="216.5" y1="658.4" x2="220.7" y2="658.4" stroke="#333" stroke-width="1.2"/>
<line x1="216.5" y1="705.3" x2="220.7" y2="705.3" stroke="#333" stroke-width="1.2"/>
<g font-family="Liberation Sans, Arial, sans-serif" fill="#333" font-size="14.5">
<text x="214" y="663.6" text-anchor="end">99%</text>
<text x="214" y="710.5" text-anchor="end">95%</text>
<text x="259.1" y="817.2">20</text>
<text x="321.7" y="817.2">40</text>
<text x="384.2" y="817.2">60</text>
<text x="446.8" y="817.2">80</text>
<text x="509.3" y="817.2">100</text>
<text x="571.8" y="817.2">120</text>
<text x="634.4" y="817.2">140</text>
<text x="696.9" y="817.2">160</text>
<text x="759.5" y="817.2">180</text>
<text x="822.0" y="817.2">200</text>
<text x="884.5" y="817.2">220</text>
<text x="947.1" y="817.2">240</text>
</g>
<text x="558.3" y="842.8" font-family="Liberation Sans, Arial, sans-serif" font-size="22" fill="#1e1e1e" stroke="#1e1e1e" stroke-width="0.25" textLength="79.5" lengthAdjust="spacingAndGlyphs">Residue</text>
<text transform="translate(180.6,724.6) rotate(-90)" font-family="Liberation Sans, Arial, sans-serif" font-size="20.2" fill="#2a2a2a" stroke="#2a2a2a" stroke-width="0.35" textLength="97.5" lengthAdjust="spacingAndGlyphs">Error value*</text>
</g>
<g font-family="Liberation Sans, Arial, sans-serif" font-weight="bold" font-size="41" fill="#000">
<text x="25.6" y="53.3" transform="translate(25.6 0) scale(0.95 1) translate(-25.6 0)">A</text>
<text x="399.4" y="63.2" transform="translate(399.4 0) scale(0.95 1) translate(-399.4 0)">B</text>
<text x="949.6" y="52.8" transform="translate(949.6 0) scale(0.95 1) translate(-949.6 0)">C</text>
<text x="105.8" y="574.8" transform="translate(105.8 0) scale(0.95 1) translate(-105.8 0)">D</text>
</g>
</svg>
</body></html>
